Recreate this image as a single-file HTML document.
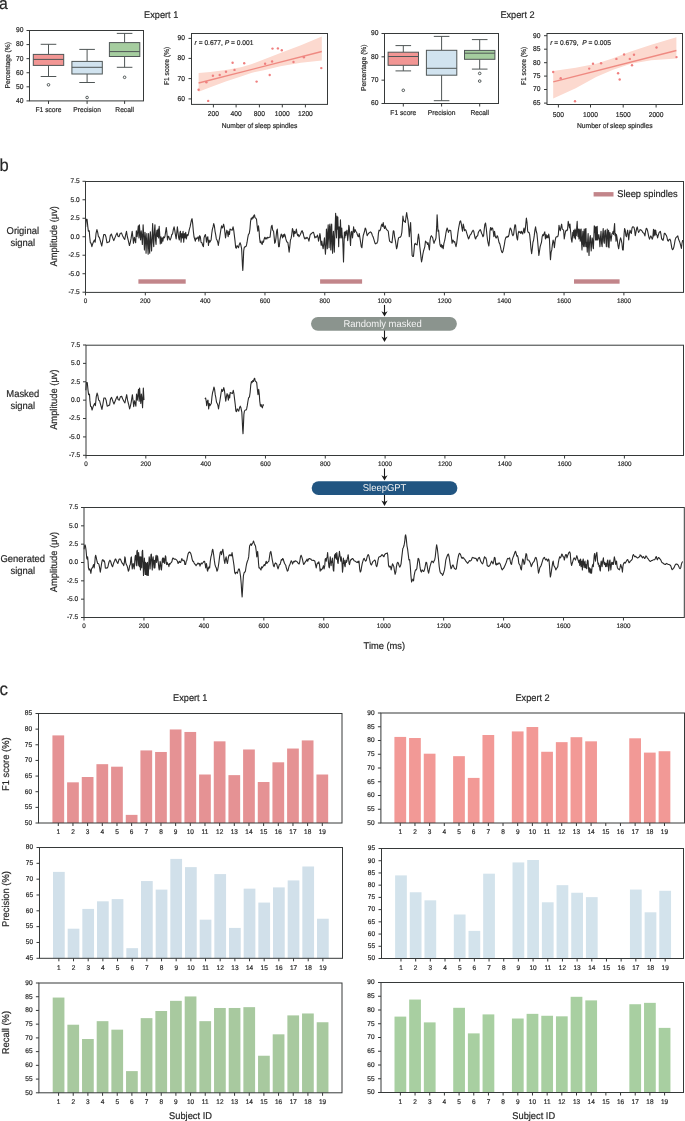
<!DOCTYPE html>
<html><head><meta charset="utf-8"><style>
html,body{margin:0;padding:0;background:#fff;}
body{width:685px;height:1121px;overflow:hidden;}
svg{display:block;font-family:"Liberation Sans", sans-serif;will-change:transform;text-rendering:geometricPrecision;}
text{stroke-width:0.18px;paint-order:stroke;}
</style></head><body>
<svg width="685" height="1121" viewBox="0 0 685 1121" shape-rendering="auto">
<rect x="0" y="0" width="685" height="1121" fill="#ffffff"/>
<path d="M85.64,226.90 L86.19,219.23 L87.07,219.23 L87.83,226.90 L88.38,231.28 L89.26,230.73 L89.69,236.75 L90.35,242.78 L91.12,243.32 L91.88,246.61 L92.54,244.42 L93.31,242.23 L94.40,240.04 L95.17,242.23 L96.04,233.47 L96.92,229.64 L97.69,232.37 L98.45,236.75 L99.33,237.30 L100.42,241.13 L101.74,246.06 L102.61,241.13 L103.71,234.56 L105.02,234.56 L105.90,236.75 L106.99,242.78 L108.09,242.23 L109.40,241.68 L110.28,235.66 L111.37,234.02 L112.69,237.85 L113.78,240.59 L114.88,237.85 L115.97,235.11 L117.07,232.92 L117.94,236.21 L119.04,236.75 L120.13,233.47 L121.45,232.92 L122.54,235.66 L123.64,237.85 L124.73,239.49 L125.61,235.11 L126.48,231.28 L127.36,236.75 L128.34,240.59 L129.44,245.51 L130.21,242.78 L131.08,238.40 L132.18,231.28 L132.94,237.85 L133.49,243.32 L134.37,237.30 L135.02,240.04 L135.68,242.78 L136.34,230.73 L137.10,236.75 L137.65,232.37 L138.31,225.80 L138.97,237.85 L139.40,224.71 L140.06,234.56 L140.61,240.04 L141.16,230.73 L141.81,235.66 L142.36,244.42 L143.13,224.71 L143.78,236.75 L144.44,249.89 L144.99,232.37 L145.54,237.85 L146.08,253.18 L146.85,233.47 L147.51,243.32 L148.16,254.27 L148.60,233.47 L149.26,246.61 L149.70,253.18 L150.35,231.83 L151.01,241.13 L151.56,250.99 L152.10,237.85 L152.65,223.61 L153.31,242.23 L153.75,246.61 L154.29,232.37 L154.95,224.71 L155.50,240.04 L156.05,244.42 L156.48,233.47 L157.00,230.18 L157.55,236.75 L158.09,229.09 L158.64,237.85 L159.19,226.35 L159.74,234.56 L160.28,243.87 L160.94,236.75 L161.60,243.32 L162.26,237.85 L162.91,241.13 L163.57,236.75 L164.23,237.85 L164.88,236.75 L165.54,232.37 L166.31,227.45 L166.85,232.37 L167.51,240.04 L168.17,236.21 L168.83,236.75 L169.48,238.94 L170.14,240.04 L171.02,237.85 L171.78,234.56 L172.55,234.02 L173.42,229.09 L174.08,226.90 L174.74,230.18 L175.39,234.56 L176.16,238.94 L176.71,233.47 L177.37,226.90 L178.02,232.37 L178.68,237.85 L179.34,240.04 L179.99,232.37 L180.43,231.28 L181.09,242.23 L181.75,233.47 L182.40,237.85 L183.06,231.28 L183.72,242.23 L184.37,233.47 L185.03,237.85 L185.69,232.37 L186.34,238.94 L187.11,234.56 L187.88,235.66 L188.53,233.47 L189.41,229.09 L190.07,226.90 L190.72,223.61 L191.38,220.33 L192.04,218.69 L192.69,223.61 L193.35,231.28 L194.01,236.75 L194.67,238.94 L195.32,241.13 L195.98,237.85 L196.64,238.94 L197.51,237.85 L198.17,236.75 L198.83,241.13 L199.70,235.66 L200.36,236.75 L201.02,242.23 L201.89,242.78 L202.77,245.51 L203.43,246.61 L204.08,237.85 L204.74,235.66 L205.40,234.56 L206.05,237.85 L206.49,242.23 L207.15,237.85 L207.80,236.75 L208.46,245.51 L209.12,240.04 L209.78,242.23 L210.43,241.13 L211.09,240.04 L211.75,233.47 L212.40,229.09 L213.06,226.90 L213.72,223.61 L214.37,225.80 L215.03,231.28 L215.69,234.56 L216.35,238.94 L217.00,240.04 L217.77,242.23 L218.32,245.51 L218.97,241.13 L219.63,237.85 L220.29,233.47 L220.94,229.09 L221.60,225.80 L222.26,227.99 L222.91,226.90 L223.57,224.16 L224.23,226.90 L224.89,232.37 L225.54,237.85 L226.20,233.47 L226.86,230.18 L227.51,232.37 L228.17,236.75 L228.83,231.28 L229.48,234.56 L230.00,229.09 L231.09,229.64 L232.19,230.18 L233.07,226.90 L233.72,230.18 L234.38,235.66 L235.04,241.13 L235.69,247.70 L236.35,248.25 L237.01,245.51 L237.88,246.61 L238.54,247.70 L239.31,244.42 L240.07,242.78 L240.73,244.42 L241.39,247.70 L241.61,248.80 L242.04,256.46 L242.48,266.32 L242.81,270.37 L243.25,261.94 L243.69,250.99 L244.23,247.70 L245.11,246.61 L245.88,246.61 L246.42,245.51 L247.08,242.23 L247.74,237.85 L248.39,234.56 L249.27,233.47 L249.93,229.09 L250.58,221.42 L251.24,218.14 L251.90,219.23 L252.56,217.04 L253.21,218.14 L253.87,215.40 L254.53,214.85 L254.96,217.59 L255.73,218.14 L256.50,219.23 L257.15,225.80 L257.81,231.28 L258.47,225.80 L259.13,231.28 L259.56,237.85 L260.22,242.78 L260.88,241.13 L261.53,243.32 L262.19,244.42 L262.85,241.13 L263.50,242.23 L264.16,238.94 L264.82,237.30 L265.48,238.94 L266.13,237.85 L266.79,238.94 L267.45,237.30 L268.32,237.85 L269.20,237.30 L270.07,237.30 L270.73,231.28 L271.39,226.35 L272.05,225.26 L272.70,230.18 L273.58,231.28 L274.24,237.85 L274.67,243.32 L275.33,242.23 L275.99,237.85 L276.64,231.28 L277.30,229.09 L277.96,237.85 L278.61,246.61 L279.27,246.61 L279.93,240.04 L280.59,236.75 L281.24,234.02 L281.90,235.66 L282.56,237.85 L283.21,234.56 L283.87,236.75 L284.53,234.02 L285.18,235.66 L285.84,238.94 L286.50,241.13 L287.16,242.23 L287.81,242.23 L288.47,246.61 L289.13,252.08 L289.78,246.61 L290.44,240.04 L291.10,238.40 L291.75,234.56 L292.41,228.54 L293.07,230.18 L293.72,236.75 L294.38,231.28 L295.04,233.47 L295.70,232.37 L296.35,229.09 L297.01,233.47 L297.67,235.66 L298.32,234.56 L298.98,236.75 L299.64,235.66 L300.29,234.56 L300.95,232.92 L301.61,231.28 L302.27,230.73 L302.92,233.47 L303.00,232.37 L303.66,235.66 L304.31,237.85 L304.97,238.94 L305.63,237.85 L306.28,238.40 L306.94,237.30 L307.60,237.85 L308.26,238.94 L308.91,241.13 L309.57,237.85 L310.23,234.56 L310.88,234.02 L311.54,233.47 L312.20,232.92 L312.85,232.37 L313.51,232.37 L314.17,234.56 L314.83,237.85 L315.48,236.75 L316.14,237.30 L316.80,236.75 L317.45,235.11 L318.11,237.85 L318.55,241.13 L319.20,237.85 L319.86,233.47 L320.30,235.66 L320.74,242.23 L321.18,245.51 L321.83,241.13 L322.49,245.51 L323.15,248.80 L323.80,243.32 L324.46,237.85 L324.90,246.61 L325.45,254.27 L325.99,244.42 L326.43,229.09 L326.87,237.85 L327.31,248.80 L327.75,232.37 L328.18,224.71 L328.62,237.85 L329.06,247.70 L329.50,226.90 L329.94,224.16 L330.37,237.85 L330.81,249.89 L331.25,226.90 L331.69,224.16 L332.13,243.32 L332.56,253.18 L333.00,237.85 L333.44,231.28 L333.88,243.32 L334.32,252.08 L334.75,237.85 L335.19,226.90 L335.63,213.21 L336.07,226.90 L336.50,237.85 L336.94,215.95 L337.38,229.09 L337.82,217.04 L338.26,232.37 L338.69,246.61 L339.13,226.90 L339.57,232.37 L340.01,237.85 L340.45,219.78 L340.88,231.28 L341.32,237.85 L341.76,227.99 L342.20,235.66 L342.64,237.85 L343.07,248.80 L343.51,261.94 L343.95,246.61 L344.39,232.37 L344.83,237.85 L345.26,231.28 L345.70,235.66 L346.36,232.37 L347.02,230.18 L347.67,240.59 L348.33,234.56 L348.77,225.26 L349.21,226.90 L349.86,235.66 L350.52,245.51 L351.18,232.37 L351.83,231.28 L352.49,237.85 L353.15,232.37 L353.59,226.90 L354.02,230.18 L354.46,232.37 L355.12,229.64 L355.78,231.28 L356.65,232.37 L357.31,234.56 L357.97,236.21 L358.62,236.75 L359.28,233.47 L359.94,237.85 L360.59,242.23 L361.25,246.61 L361.91,247.70 L362.56,241.13 L363.22,235.66 L363.88,233.47 L364.54,231.28 L365.19,227.99 L365.85,229.09 L366.51,232.37 L367.16,235.66 L367.82,234.56 L368.48,233.47 L369.13,232.92 L369.79,232.37 L370.45,231.83 L371.10,232.37 L371.76,233.47 L372.42,235.66 L373.08,236.75 L373.73,238.94 L374.39,241.13 L375.05,243.32 L375.70,243.87 L376.00,243.32 L376.88,243.32 L377.75,241.13 L378.41,233.47 L379.07,230.18 L379.94,230.73 L380.60,229.09 L381.26,225.80 L381.91,224.16 L382.57,226.35 L383.23,222.52 L383.88,226.90 L384.54,228.54 L385.20,225.80 L385.85,227.99 L386.51,229.64 L387.39,230.18 L388.26,231.28 L388.92,236.75 L389.58,241.13 L390.23,241.68 L391.11,242.23 L391.99,242.78 L392.64,236.75 L393.30,230.73 L393.96,231.28 L394.61,236.75 L395.27,240.04 L395.93,244.42 L396.58,248.80 L397.24,246.61 L397.90,241.13 L398.56,237.85 L399.43,237.30 L400.31,237.30 L401.18,235.66 L401.84,232.37 L402.50,223.61 L402.94,215.95 L403.37,219.23 L404.03,221.42 L404.69,221.42 L405.34,222.52 L406.00,217.04 L406.66,212.66 L407.32,217.04 L407.97,220.33 L408.63,226.90 L409.29,236.75 L409.94,229.09 L410.60,222.52 L411.04,232.37 L411.69,246.61 L412.13,255.37 L412.79,256.46 L413.45,256.46 L414.10,249.89 L414.54,244.42 L415.20,243.32 L415.86,244.42 L416.51,244.42 L417.17,244.96 L417.83,238.94 L418.48,234.02 L419.14,238.94 L419.80,246.61 L420.45,252.08 L421.11,258.65 L421.55,261.94 L422.21,258.65 L422.86,254.27 L423.52,250.99 L424.18,248.80 L424.83,246.61 L425.49,241.13 L426.15,242.23 L426.80,242.23 L427.46,244.42 L428.12,242.78 L428.78,246.61 L429.43,249.89 L430.09,240.04 L430.75,236.75 L431.40,235.66 L432.06,236.75 L432.72,237.85 L433.37,241.13 L434.03,243.32 L434.69,241.13 L435.35,240.04 L436.00,237.85 L436.66,226.90 L437.10,214.85 L437.54,221.42 L437.97,231.28 L438.63,230.18 L439.29,237.85 L439.94,244.42 L440.60,246.61 L441.26,244.42 L441.91,247.70 L442.57,245.51 L443.23,248.80 L443.89,243.32 L444.54,241.13 L445.20,237.85 L445.86,233.47 L446.51,230.18 L447.17,227.99 L447.83,230.18 L448.48,232.37 L449.00,230.73 L449.88,230.18 L450.75,230.73 L451.41,236.75 L452.07,243.32 L452.72,240.04 L453.38,240.59 L454.04,242.23 L454.69,241.68 L455.35,244.42 L456.01,246.61 L456.66,243.32 L457.32,237.85 L457.98,232.37 L458.64,227.99 L459.29,224.71 L459.95,221.42 L460.61,220.88 L461.26,223.61 L461.92,227.99 L462.58,231.28 L463.23,224.16 L463.89,226.90 L464.55,230.73 L465.20,229.64 L465.86,230.18 L466.52,232.37 L467.18,234.56 L467.83,236.75 L468.49,238.94 L469.15,237.85 L469.80,235.66 L470.46,234.56 L471.12,234.02 L471.77,232.37 L472.43,231.28 L473.09,230.18 L473.75,231.28 L474.40,234.56 L475.06,237.85 L475.72,238.94 L476.37,236.75 L477.03,236.21 L477.69,235.66 L478.34,232.37 L479.00,231.28 L479.66,230.18 L480.32,229.64 L480.97,231.28 L481.63,233.47 L482.29,234.56 L482.94,236.75 L483.60,235.66 L484.26,229.09 L484.91,224.16 L485.57,223.07 L486.23,227.99 L486.88,234.56 L487.54,240.04 L488.20,243.32 L488.86,246.06 L489.51,240.04 L489.95,231.28 L490.61,227.45 L491.26,230.18 L491.92,227.99 L492.58,227.99 L493.24,231.28 L493.89,236.75 L494.55,231.28 L495.21,235.66 L495.86,237.85 L496.52,237.85 L497.18,235.66 L497.83,236.75 L498.49,240.04 L499.15,242.78 L499.80,243.87 L500.46,246.61 L501.12,249.89 L501.78,252.08 L502.43,252.63 L503.09,250.99 L503.75,247.70 L504.40,244.42 L505.06,240.04 L505.72,237.85 L506.37,236.75 L507.03,237.30 L507.69,236.21 L508.35,236.75 L509.00,234.56 L509.66,230.18 L510.32,227.99 L510.97,229.09 L511.63,231.28 L512.29,234.56 L512.94,235.66 L513.60,234.56 L514.26,229.09 L514.91,224.71 L515.57,225.26 L516.23,232.37 L516.89,237.85 L517.54,240.04 L518.20,233.47 L518.86,231.28 L519.51,232.37 L520.17,231.83 L520.83,233.47 L521.48,231.28 L522.00,232.37 L522.66,234.02 L523.31,231.28 L523.97,227.99 L524.63,232.92 L525.28,229.09 L525.94,222.52 L526.38,218.14 L527.04,222.52 L527.69,231.28 L528.35,232.37 L529.01,232.37 L529.66,234.56 L530.32,241.13 L530.98,248.80 L531.64,253.72 L532.29,248.80 L532.95,242.23 L533.61,240.04 L534.26,235.66 L534.92,230.18 L535.58,226.90 L536.23,231.28 L536.89,233.47 L537.55,240.04 L538.20,247.70 L538.86,255.37 L539.52,250.99 L540.18,246.61 L540.83,244.42 L541.49,242.23 L542.15,236.75 L542.80,234.56 L543.46,235.66 L544.12,233.47 L544.77,231.83 L545.43,238.94 L546.09,234.56 L546.75,237.85 L547.40,235.66 L548.06,237.85 L548.72,234.02 L549.37,237.85 L550.03,252.08 L550.47,259.75 L551.13,252.08 L551.78,249.89 L552.44,244.42 L553.10,240.04 L553.75,242.23 L554.41,247.70 L555.07,241.13 L555.72,237.85 L556.38,236.75 L557.04,236.75 L557.69,236.75 L558.35,234.56 L559.01,225.26 L559.67,229.09 L560.32,230.73 L560.98,226.90 L561.64,224.16 L562.29,229.09 L562.95,229.64 L563.61,230.18 L564.26,238.94 L564.92,234.56 L565.58,231.28 L566.24,230.18 L566.89,230.73 L567.55,229.64 L568.21,221.42 L568.86,224.71 L569.52,227.99 L569.96,224.16 L570.40,229.64 L570.83,233.47 L571.27,238.94 L571.93,242.23 L572.37,237.85 L572.80,232.37 L573.24,235.66 L573.68,230.18 L574.12,237.85 L574.56,232.37 L574.99,229.09 L575.43,238.94 L575.87,230.18 L576.31,235.66 L576.75,226.90 L577.18,221.42 L577.62,232.37 L578.06,236.75 L578.50,229.09 L578.94,238.94 L579.37,233.47 L579.81,229.09 L580.25,241.13 L580.69,235.66 L581.13,229.09 L581.56,242.23 L582.00,249.89 L582.44,237.85 L582.88,231.28 L583.32,244.42 L583.75,246.61 L584.19,229.09 L584.63,237.85 L585.07,246.61 L585.51,229.09 L585.94,228.54 L586.38,246.61 L586.82,242.23 L587.26,252.08 L587.70,240.04 L588.13,233.47 L588.57,246.61 L589.01,255.37 L589.45,244.42 L589.89,237.85 L590.32,235.66 L590.76,244.42 L591.20,250.99 L591.64,243.32 L592.08,237.85 L592.51,238.94 L592.95,246.61 L593.39,248.80 L593.83,237.85 L594.27,225.80 L594.70,232.37 L595.00,226.90 L595.55,240.04 L596.09,226.90 L596.64,240.04 L597.19,226.35 L597.74,240.04 L598.28,237.85 L598.83,234.56 L599.38,238.94 L599.93,246.61 L600.47,237.85 L601.02,231.28 L601.57,243.32 L602.12,246.61 L602.66,234.56 L603.21,228.54 L603.76,241.13 L604.31,243.32 L604.85,231.28 L605.40,230.18 L605.95,241.13 L606.39,246.61 L606.83,234.56 L607.26,229.09 L607.70,236.75 L608.14,246.61 L608.58,230.18 L609.02,247.70 L609.45,237.85 L609.89,232.37 L610.33,235.66 L610.99,241.13 L611.42,237.85 L611.97,233.47 L612.52,233.47 L613.07,231.28 L613.61,234.56 L614.16,227.99 L614.60,223.61 L615.04,235.66 L615.58,233.47 L616.02,241.13 L616.46,234.56 L616.90,236.75 L617.45,241.13 L617.99,245.51 L618.65,248.80 L619.31,244.42 L619.96,240.04 L620.62,237.85 L621.28,240.04 L621.94,243.32 L622.59,249.89 L623.25,249.89 L623.69,241.13 L624.13,233.47 L624.56,228.54 L625.22,230.18 L625.88,235.66 L626.53,236.75 L627.19,232.37 L627.63,230.18 L628.07,233.47 L628.72,240.04 L629.38,233.47 L630.04,230.18 L630.69,232.37 L631.35,233.47 L632.01,227.99 L632.67,226.90 L633.32,226.90 L633.98,227.45 L634.64,230.18 L635.29,235.66 L635.95,232.37 L636.61,228.54 L637.26,226.90 L637.92,230.18 L638.58,232.37 L639.24,231.28 L639.89,230.18 L640.00,229.64 L640.99,229.97 L641.97,230.95 L642.96,232.60 L643.94,233.25 L644.93,235.88 L645.58,231.28 L646.24,228.32 L646.90,228.65 L647.56,230.62 L648.21,233.91 L648.87,237.19 L649.53,239.17 L650.18,237.19 L650.84,235.88 L651.50,237.19 L652.16,239.17 L652.81,237.85 L653.47,229.31 L653.93,235.88 L654.45,229.97 L655.11,235.22 L655.64,229.97 L656.29,233.91 L656.95,235.22 L657.61,237.85 L658.27,235.22 L659.05,232.60 L659.71,231.94 L660.37,231.28 L661.02,234.57 L661.68,239.17 L662.34,239.17 L663.00,240.48 L663.65,237.85 L664.31,233.25 L664.97,233.25 L665.62,234.57 L666.28,235.22 L666.94,237.19 L667.60,240.48 L668.25,241.14 L668.91,239.82 L669.89,239.17 L670.55,240.48 L671.21,244.42 L671.87,248.36 L672.52,249.68 L673.18,249.02 L673.84,247.05 L674.49,243.76 L675.15,239.82 L675.81,237.85 L676.47,237.19 L677.12,236.54 L677.78,235.88 L678.24,237.85 L678.76,239.82 L679.42,241.14 L680.08,243.11 L680.74,245.74 L681.39,248.36 L681.92,243.76 L682.58,240.48 L683.23,240.81" fill="none" stroke="#2a2a2a" stroke-width="1.1" stroke-linejoin="round"/>
<path d="M85.84,390.30 L86.39,382.63 L87.27,382.63 L88.03,390.30 L88.58,394.68 L89.46,394.13 L89.89,400.15 L90.55,406.18 L91.32,406.72 L92.08,410.01 L92.74,407.82 L93.51,405.63 L94.60,403.44 L95.37,405.63 L96.24,396.87 L97.12,393.04 L97.89,395.77 L98.65,400.15 L99.53,400.70 L100.62,404.53 L101.94,409.46 L102.81,404.53 L103.91,397.96 L105.22,397.96 L106.10,400.15 L107.19,406.18 L108.29,405.63 L109.60,405.08 L110.48,399.06 L111.57,397.42 L112.89,401.25 L113.98,403.99 L115.08,401.25 L116.17,398.51 L117.27,396.32 L118.14,399.61 L119.24,400.15 L120.33,396.87 L121.65,396.32 L122.74,399.06 L123.84,401.25 L124.93,402.89 L125.81,398.51 L126.68,394.68 L127.56,400.15 L128.54,403.99 L129.64,408.91 L130.41,406.18 L131.28,401.80 L132.38,394.68 L133.14,401.25 L133.69,406.72 L134.57,400.70 L135.22,403.44 L135.88,406.18 L136.54,394.13 L137.30,400.15 L137.85,395.77 L138.51,389.20 L139.17,401.25 L139.60,388.11 L140.26,397.96 L140.81,403.44 L141.36,394.13 L142.01,399.06 L142.56,407.82 L143.33,388.11 L143.98,400.15" fill="none" stroke="#2a2a2a" stroke-width="1.1" stroke-linejoin="round"/>
<path d="M204.94,399.06 L205.60,397.96 L206.25,401.25 L206.69,405.63 L207.35,401.25 L208.00,400.15 L208.66,408.91 L209.32,403.44 L209.98,405.63 L210.63,404.53 L211.29,403.44 L211.95,396.87 L212.60,392.49 L213.26,390.30 L213.92,387.01 L214.57,389.20 L215.23,394.68 L215.89,397.96 L216.55,402.34 L217.20,403.44 L217.97,405.63 L218.52,408.91 L219.17,404.53 L219.83,401.25 L220.49,396.87 L221.14,392.49 L221.80,389.20 L222.46,391.39 L223.11,390.30 L223.77,387.56 L224.43,390.30 L225.09,395.77 L225.74,401.25 L226.40,396.87 L227.06,393.58 L227.71,395.77 L228.37,400.15 L229.03,394.68 L229.68,397.96 L230.20,392.49 L231.29,393.04 L232.39,393.58 L233.27,390.30 L233.92,393.58 L234.58,399.06 L235.24,404.53 L235.89,411.10 L236.55,411.65 L237.21,408.91 L238.08,410.01 L238.74,411.10 L239.51,407.82 L240.27,406.18 L240.93,407.82 L241.59,411.10 L241.81,412.20 L242.24,419.86 L242.68,429.72 L243.01,433.77 L243.45,425.34 L243.89,414.39 L244.43,411.10 L245.31,410.01 L246.08,410.01 L246.62,408.91 L247.28,405.63 L247.94,401.25 L248.59,397.96 L249.47,396.87 L250.13,392.49 L250.78,384.82 L251.44,381.54 L252.10,382.63 L252.76,380.44 L253.41,381.54 L254.07,378.80 L254.73,378.25 L255.16,380.99 L255.93,381.54 L256.70,382.63 L257.35,389.20 L258.01,394.68 L258.67,389.20 L259.33,394.68 L259.76,401.25 L260.42,406.18 L261.08,404.53 L261.73,406.72 L262.39,407.82 L263.05,404.53 L263.70,405.63" fill="none" stroke="#2a2a2a" stroke-width="1.1" stroke-linejoin="round"/>
<path d="M84.09,549.23 L84.53,545.95 L84.97,544.85 L85.41,545.95 L86.07,550.33 L86.72,557.99 L87.16,559.09 L87.60,556.90 L88.04,561.28 L88.47,567.85 L89.13,570.04 L89.79,568.94 L90.45,571.13 L90.88,573.32 L91.54,568.94 L92.20,567.85 L92.85,566.75 L93.51,564.56 L94.17,567.85 L94.83,562.37 L95.26,556.90 L95.70,555.26 L96.36,557.99 L97.02,561.28 L97.67,563.47 L98.33,563.47 L98.99,564.56 L99.64,567.85 L100.30,572.23 L100.96,567.85 L101.61,563.47 L102.27,560.18 L102.93,559.64 L103.58,561.28 L104.24,560.73 L104.90,563.47 L105.34,567.85 L105.99,568.40 L106.65,567.85 L107.31,567.85 L107.96,566.75 L108.62,563.47 L109.28,561.28 L109.94,560.18 L110.59,561.28 L111.25,563.47 L111.91,565.66 L112.56,566.75 L113.22,564.56 L113.88,562.37 L114.53,561.28 L115.19,559.09 L115.85,559.09 L116.50,561.28 L117.16,562.37 L117.82,563.47 L118.48,561.28 L119.13,559.09 L119.79,559.09 L120.45,559.09 L121.10,560.73 L121.76,562.37 L122.42,563.47 L123.07,564.02 L123.73,565.66 L124.39,562.37 L124.83,556.90 L125.26,557.99 L125.70,562.37 L126.36,564.56 L127.02,565.66 L127.67,567.85 L128.33,571.13 L128.99,570.04 L129.64,565.66 L130.30,564.56 L130.96,557.99 L131.40,556.90 L131.83,564.56 L132.27,568.94 L132.71,565.66 L133.15,563.47 L133.59,565.66 L134.24,568.94 L134.68,562.37 L135.12,556.90 L135.56,555.26 L135.99,559.09 L136.43,565.66 L136.87,551.42 L137.31,550.33 L137.75,560.18 L138.18,565.66 L138.62,552.52 L139.06,559.09 L139.50,566.75 L139.94,556.90 L140.00,557.99 L140.44,570.04 L140.88,556.90 L141.31,563.47 L141.75,567.85 L142.19,551.42 L142.63,550.33 L143.07,562.37 L143.50,575.51 L143.94,567.85 L144.38,557.99 L144.82,565.66 L145.26,574.42 L145.69,562.37 L146.13,574.42 L146.57,563.47 L147.01,575.51 L147.45,562.37 L147.88,574.42 L148.32,575.51 L148.76,563.47 L149.20,556.90 L149.64,560.18 L150.07,568.94 L150.51,562.37 L150.95,554.71 L151.39,554.16 L151.83,562.37 L152.26,570.04 L152.70,560.18 L153.14,556.90 L153.58,563.47 L154.02,567.85 L154.45,560.18 L154.89,567.85 L155.33,562.37 L155.77,556.90 L156.20,555.26 L156.64,562.37 L157.08,559.09 L157.52,555.80 L157.96,559.09 L158.39,563.47 L158.83,567.85 L159.27,570.04 L159.71,565.66 L160.15,561.28 L160.58,563.47 L161.02,568.94 L161.46,570.04 L161.90,564.56 L162.34,559.09 L162.77,557.99 L163.21,562.37 L163.65,557.99 L164.09,559.09 L164.53,563.47 L164.96,560.18 L165.40,555.80 L165.84,556.90 L166.28,563.47 L166.72,564.56 L167.15,562.37 L167.59,563.47 L168.03,564.56 L168.47,564.56 L168.91,566.75 L169.34,563.47 L169.78,564.56 L170.22,563.47 L170.88,562.92 L171.53,562.37 L171.97,561.28 L172.41,559.09 L172.85,557.99 L173.50,558.54 L174.16,559.09 L174.82,559.09 L175.48,559.09 L176.13,559.64 L176.79,560.18 L177.45,561.28 L178.10,563.47 L178.76,562.37 L179.42,561.28 L180.07,562.37 L180.73,562.37 L181.39,560.18 L181.83,558.54 L182.48,560.18 L183.14,560.73 L183.80,560.18 L184.45,561.28 L184.89,564.56 L185.55,564.56 L186.21,561.28 L186.86,560.18 L187.52,556.35 L188.18,553.61 L188.83,552.52 L189.49,551.97 L190.15,552.52 L190.80,553.61 L191.46,555.80 L192.12,559.09 L192.78,561.28 L193.43,561.28 L194.09,562.92 L194.75,564.02 L195.40,564.56 L196.06,565.66 L196.72,564.56 L197.37,564.02 L198.03,562.92 L198.69,564.02 L199.35,563.47 L200.00,566.21 L200.66,564.02 L201.32,562.92 L201.97,564.02 L202.63,562.92 L203.29,562.37 L203.94,561.28 L204.60,561.28 L205.26,564.56 L205.70,567.85 L206.35,563.47 L206.79,565.66 L207.23,570.04 L207.67,571.13 L208.10,567.85 L208.54,568.94 L208.98,566.75 L209.64,567.85 L210.29,561.28 L210.95,556.90 L211.61,554.71 L212.27,550.33 L212.70,549.23 L213.00,550.33 L213.66,554.71 L214.31,560.18 L214.97,564.56 L215.63,566.75 L216.28,567.85 L216.94,571.13 L217.60,570.04 L218.26,566.75 L218.91,562.37 L219.57,556.90 L220.23,552.52 L220.88,551.42 L221.54,554.71 L222.20,551.42 L222.85,549.23 L223.51,553.61 L224.17,560.18 L224.83,563.47 L225.48,559.09 L226.14,556.90 L226.80,561.28 L227.45,563.47 L228.11,559.09 L228.77,555.80 L229.42,554.71 L230.08,555.80 L230.74,554.71 L231.39,555.80 L232.05,552.52 L232.71,556.90 L233.37,561.28 L234.02,565.66 L234.68,572.23 L235.34,573.87 L235.99,572.23 L236.65,572.23 L237.31,573.32 L237.96,571.13 L238.62,568.94 L239.28,568.94 L239.94,572.23 L240.59,576.61 L241.25,584.27 L241.69,591.94 L242.13,596.86 L242.56,589.75 L243.00,582.08 L243.44,575.51 L244.10,572.78 L244.75,572.23 L245.41,571.13 L246.07,566.75 L246.72,563.47 L247.38,561.28 L248.04,559.64 L248.69,556.90 L249.13,551.42 L249.57,545.95 L250.23,544.85 L250.88,543.76 L251.54,545.40 L252.20,543.76 L252.86,542.66 L253.51,541.02 L254.17,543.21 L254.83,544.85 L255.48,545.95 L256.14,550.33 L256.80,556.90 L257.24,553.61 L257.67,551.42 L258.11,556.90 L258.55,563.47 L258.99,567.85 L259.64,567.85 L260.30,568.94 L260.96,570.04 L261.61,566.75 L262.27,567.85 L262.93,566.75 L263.59,565.66 L264.24,564.56 L264.90,565.66 L265.56,563.47 L266.21,561.28 L266.87,563.47 L267.53,562.37 L268.18,561.83 L268.84,561.28 L269.50,556.90 L270.16,552.52 L270.81,551.42 L271.47,554.71 L272.13,559.09 L272.78,562.37 L273.44,565.66 L274.10,566.75 L274.75,564.02 L275.41,562.92 L276.07,563.47 L276.72,564.02 L277.38,566.75 L278.04,568.94 L278.70,566.75 L279.35,564.56 L280.01,564.56 L280.67,562.37 L281.32,559.64 L281.98,560.18 L282.64,558.54 L283.29,559.09 L283.95,561.83 L284.61,563.47 L285.27,564.56 L285.92,565.66 L286.00,566.75 L286.66,568.94 L287.31,571.13 L287.97,570.59 L288.63,567.85 L289.28,565.66 L289.94,564.56 L290.60,562.37 L291.26,560.73 L291.91,561.83 L292.57,564.02 L293.23,562.37 L293.88,561.28 L294.54,561.83 L295.20,560.73 L295.85,561.28 L296.51,561.28 L297.17,561.83 L297.83,562.92 L298.48,563.47 L299.14,564.02 L299.80,561.28 L300.45,556.90 L301.11,555.26 L301.77,556.90 L302.42,559.09 L303.08,562.37 L303.74,564.56 L304.39,563.47 L305.05,562.37 L305.71,561.28 L306.37,560.73 L307.02,559.09 L307.68,561.28 L308.34,559.64 L308.99,558.54 L309.65,558.54 L310.31,559.09 L310.96,559.09 L311.62,560.18 L312.28,560.18 L312.94,560.40 L313.59,560.18 L314.25,560.73 L314.91,561.28 L315.56,564.56 L316.22,567.85 L316.88,564.56 L317.53,562.92 L318.19,563.47 L318.85,561.83 L319.50,564.56 L320.16,571.13 L320.82,568.94 L321.48,570.04 L322.13,568.94 L322.79,567.85 L323.45,565.66 L324.10,568.94 L324.76,565.66 L325.20,559.09 L325.64,558.54 L326.29,561.28 L326.73,557.99 L327.17,556.90 L327.61,552.52 L328.05,557.99 L328.48,562.37 L328.92,566.75 L329.36,567.85 L329.80,562.37 L330.24,556.90 L330.67,560.18 L331.11,565.66 L331.55,561.28 L331.99,562.37 L332.43,557.99 L332.86,563.47 L333.30,570.04 L333.74,571.13 L334.18,562.37 L334.61,554.71 L335.05,557.99 L335.49,553.61 L335.93,556.90 L336.37,559.09 L336.80,552.52 L337.24,556.90 L337.68,562.37 L338.12,563.47 L338.56,557.99 L338.99,555.80 L339.43,551.42 L339.87,554.71 L340.31,557.99 L340.75,561.28 L341.18,556.90 L341.62,560.18 L342.06,563.47 L342.50,572.23 L342.94,567.85 L343.37,557.99 L343.81,563.47 L344.25,560.18 L344.69,565.66 L345.13,566.75 L345.56,562.37 L346.00,560.18 L346.44,562.37 L346.88,561.28 L347.32,558.54 L347.75,556.90 L348.19,554.71 L348.63,559.09 L349.07,563.47 L349.51,564.56 L350.16,561.28 L350.82,559.64 L351.48,559.64 L352.13,558.54 L352.79,558.54 L353.45,559.64 L354.10,560.73 L354.76,561.06 L355.42,561.28 L356.08,561.83 L356.73,562.37 L357.39,562.37 L358.05,561.28 L358.70,562.92 L359.00,561.13 L359.66,568.80 L360.31,572.08 L360.97,570.99 L361.63,566.61 L362.28,563.32 L362.94,561.13 L363.60,558.94 L364.26,558.40 L364.91,560.04 L365.57,561.13 L366.23,560.59 L366.88,557.85 L367.54,555.66 L368.20,554.56 L368.85,555.66 L369.51,558.94 L370.17,562.23 L370.83,564.42 L371.48,564.96 L372.14,563.32 L372.80,561.68 L373.45,561.13 L374.11,560.59 L374.77,560.04 L375.42,561.13 L376.08,565.51 L376.74,566.61 L377.39,564.42 L378.05,560.04 L378.71,557.30 L379.37,556.75 L380.02,556.75 L380.68,556.21 L381.34,555.66 L381.99,554.56 L382.65,555.11 L383.31,556.21 L383.96,556.75 L384.62,554.56 L385.28,554.02 L385.94,553.47 L386.59,553.47 L387.25,552.92 L387.69,554.56 L388.13,560.04 L388.56,565.51 L389.22,567.15 L389.88,566.06 L390.53,566.61 L391.19,569.89 L391.85,566.61 L392.50,563.87 L393.16,564.96 L393.82,566.61 L394.48,570.99 L395.13,574.27 L395.79,572.08 L396.45,566.61 L397.10,563.32 L397.76,562.23 L398.42,563.32 L399.07,565.51 L399.73,567.15 L400.39,566.06 L401.05,563.87 L401.70,557.85 L402.36,552.37 L402.80,548.54 L403.45,547.45 L404.11,545.26 L404.77,541.42 L405.21,535.95 L405.64,534.85 L406.08,537.04 L406.52,541.42 L406.96,545.80 L407.61,549.09 L408.27,554.56 L408.93,560.04 L409.59,559.49 L410.24,565.51 L410.90,575.37 L411.56,581.94 L412.21,580.29 L412.87,579.20 L413.53,580.84 L414.18,575.37 L414.84,572.08 L415.50,569.89 L416.16,569.89 L416.81,568.80 L417.47,563.32 L418.13,558.40 L418.78,558.94 L419.44,562.23 L420.10,567.70 L420.75,570.99 L421.41,572.08 L422.07,569.89 L422.72,570.44 L423.38,571.53 L424.04,570.99 L424.70,568.80 L425.35,565.51 L426.01,562.23 L426.67,562.78 L427.32,566.61 L427.98,570.99 L428.64,573.18 L429.29,569.89 L429.95,566.61 L430.61,564.42 L431.27,562.23 L431.92,561.13 L432.00,561.13 L432.66,561.68 L433.31,562.78 L433.97,561.13 L434.63,560.04 L435.28,556.75 L435.94,550.18 L436.60,544.71 L437.26,547.99 L437.91,553.47 L438.57,560.04 L439.23,566.61 L439.88,570.99 L440.54,573.18 L441.20,573.18 L441.85,573.72 L442.51,575.37 L443.17,574.27 L443.83,572.08 L444.48,569.89 L445.14,565.51 L445.80,560.04 L446.45,557.85 L447.11,556.21 L447.77,554.56 L448.42,554.02 L449.08,556.75 L449.74,561.13 L450.39,565.51 L451.05,568.80 L451.71,567.70 L452.37,565.51 L453.02,564.96 L453.68,566.61 L454.34,568.25 L454.99,568.80 L455.65,569.34 L456.31,568.80 L456.96,564.42 L457.62,560.04 L458.28,556.75 L458.94,554.02 L459.59,553.25 L460.25,554.02 L460.91,555.66 L461.56,557.85 L462.22,558.40 L462.88,557.30 L463.53,557.85 L464.19,558.94 L464.85,559.49 L465.50,560.59 L466.16,561.68 L466.82,562.23 L467.48,563.32 L468.13,562.78 L468.79,561.68 L469.45,560.59 L470.10,561.13 L470.76,560.59 L471.42,560.04 L472.07,557.85 L472.73,557.30 L473.39,557.85 L474.05,557.85 L474.70,558.40 L475.36,558.40 L476.02,558.40 L476.67,560.04 L477.33,561.13 L477.99,558.94 L478.64,557.85 L479.30,557.30 L479.96,558.94 L480.61,561.13 L481.27,562.23 L481.93,563.32 L482.59,563.87 L483.24,562.23 L483.90,558.94 L484.56,556.75 L485.21,557.85 L485.87,557.85 L486.53,560.04 L487.18,565.51 L487.84,566.06 L488.50,566.39 L489.16,566.06 L489.81,565.51 L490.47,563.87 L491.13,562.23 L491.78,561.13 L492.44,562.78 L493.10,563.87 L493.75,561.13 L494.41,557.30 L495.07,557.85 L495.72,564.42 L496.38,564.96 L497.04,563.32 L497.70,564.42 L498.35,563.87 L499.01,562.78 L499.67,563.32 L500.32,564.42 L500.98,566.61 L501.64,568.80 L502.29,569.89 L502.95,568.80 L503.61,568.25 L504.27,567.15 L504.92,565.51 L505.00,565.51 L505.66,563.87 L506.31,562.23 L506.97,560.04 L507.63,558.40 L508.28,558.94 L508.94,558.40 L509.60,557.85 L510.26,561.13 L510.91,563.87 L511.57,564.42 L512.23,560.04 L512.88,557.85 L513.54,556.21 L514.20,554.56 L514.85,552.37 L515.51,551.28 L516.17,553.47 L516.83,556.21 L517.48,555.66 L518.14,557.85 L518.80,563.32 L519.45,564.42 L520.11,565.51 L520.77,568.80 L521.42,569.89 L522.08,563.32 L522.74,558.94 L523.39,560.04 L524.05,564.42 L524.71,563.32 L525.37,557.85 L526.02,553.47 L526.68,554.56 L527.34,560.04 L527.99,560.04 L528.65,560.04 L529.31,561.13 L529.96,562.23 L530.62,563.87 L531.28,566.61 L531.94,564.96 L532.59,563.32 L533.25,562.23 L533.91,561.68 L534.56,560.04 L535.22,557.85 L535.88,557.30 L536.53,558.94 L537.19,562.23 L537.85,567.70 L538.50,573.18 L539.16,570.99 L539.82,567.70 L540.48,566.61 L541.13,565.51 L541.79,563.32 L542.45,561.13 L543.10,558.94 L543.76,557.85 L544.42,557.30 L545.07,558.94 L545.73,560.04 L546.39,558.94 L547.05,560.04 L547.70,561.13 L548.36,558.94 L549.02,560.04 L549.45,565.51 L549.89,572.08 L550.33,577.01 L550.77,575.37 L551.43,570.99 L552.08,566.61 L552.74,562.23 L553.18,561.13 L553.83,565.51 L554.49,566.61 L555.15,567.70 L555.80,569.89 L556.46,568.80 L557.12,567.70 L557.78,566.61 L558.43,562.23 L559.09,558.94 L559.75,556.75 L560.40,557.85 L561.06,556.75 L561.72,554.02 L562.37,554.56 L563.03,556.75 L563.69,556.75 L564.35,560.04 L565.00,556.75 L565.66,554.56 L566.32,554.56 L566.97,557.85 L567.63,555.66 L568.29,554.02 L568.94,552.37 L569.60,551.83 L570.26,553.47 L570.91,562.23 L571.57,565.51 L572.23,563.32 L572.89,561.13 L573.54,558.94 L574.20,557.85 L574.86,558.94 L575.51,560.04 L576.17,557.85 L576.83,555.66 L577.48,557.85 L578.00,560.04 L578.44,561.13 L578.88,562.78 L579.31,560.04 L579.75,565.51 L580.19,561.13 L580.63,558.94 L581.07,566.61 L581.50,563.32 L581.94,561.13 L582.38,569.89 L582.82,561.13 L583.26,558.94 L583.69,564.42 L584.13,567.70 L584.57,562.23 L585.01,561.13 L585.45,567.70 L585.88,564.42 L586.32,567.70 L586.76,568.80 L587.20,562.23 L587.64,560.04 L588.07,561.13 L588.51,568.80 L588.95,572.08 L589.39,567.70 L589.83,569.89 L590.26,573.18 L590.70,568.80 L591.14,572.08 L591.58,573.18 L592.02,567.70 L592.45,565.51 L592.89,564.42 L593.33,566.61 L593.77,561.13 L594.20,555.66 L594.64,553.47 L595.08,557.85 L595.52,561.13 L595.96,556.75 L596.39,553.47 L596.83,552.37 L597.27,556.75 L597.71,562.23 L598.15,564.42 L598.58,563.32 L599.02,566.61 L599.46,565.51 L599.90,569.89 L600.34,570.99 L600.77,564.42 L601.21,561.13 L601.65,563.32 L602.09,566.61 L602.53,562.23 L602.96,560.04 L603.40,557.85 L603.84,563.32 L604.28,564.42 L604.72,562.23 L605.15,564.42 L605.59,566.61 L606.03,563.32 L606.47,564.42 L606.91,566.61 L607.34,561.13 L607.78,560.04 L608.22,564.42 L608.66,570.99 L609.10,567.70 L609.53,561.13 L609.97,560.04 L610.41,565.51 L610.85,569.89 L611.29,565.51 L611.72,562.23 L612.16,563.32 L612.60,564.42 L613.04,562.23 L613.48,564.42 L613.91,560.04 L614.35,556.75 L614.79,558.94 L615.23,561.13 L615.67,564.42 L616.10,562.23 L616.54,561.13 L616.98,565.51 L617.42,567.70 L618.07,568.80 L618.73,569.34 L619.39,569.89 L620.05,567.70 L620.70,564.42 L621.36,566.61 L622.02,568.80 L622.45,572.08 L622.89,566.61 L623.33,564.42 L623.77,563.32 L624.43,562.23 L625.08,563.32 L625.74,562.23 L626.40,561.13 L627.05,560.04 L627.71,559.49 L628.37,561.13 L629.02,562.78 L629.68,562.23 L630.34,561.13 L630.99,560.59 L631.65,560.04 L632.31,558.94 L632.75,555.66 L633.40,554.56 L634.06,555.66 L634.72,556.75 L635.37,556.21 L636.03,556.75 L636.69,557.30 L637.35,557.85 L638.00,557.85 L638.66,557.30 L639.32,556.75 L639.97,556.21 L640.00,554.89 L640.66,555.22 L641.31,555.88 L641.97,557.19 L642.63,557.85 L643.29,556.54 L643.94,557.19 L644.60,558.51 L645.26,557.85 L645.91,555.88 L646.57,556.54 L647.23,557.85 L647.88,558.51 L648.54,559.49 L649.20,560.48 L649.86,561.14 L650.51,561.47 L651.17,560.81 L651.83,560.48 L652.48,560.48 L653.14,559.82 L653.80,559.82 L654.45,559.82 L655.11,559.17 L655.77,557.19 L656.29,556.54 L656.82,558.51 L657.35,559.82 L657.87,558.51 L658.40,557.52 L659.05,557.85 L659.71,558.84 L660.37,559.17 L661.02,560.48 L661.68,562.12 L662.34,562.78 L663.00,563.11 L663.65,563.76 L664.31,564.09 L664.97,564.42 L665.62,564.42 L666.28,563.44 L666.94,563.76 L667.60,564.09 L668.25,564.42 L668.91,564.55 L669.57,564.75 L670.22,565.21 L670.88,566.06 L671.54,568.36 L672.19,569.68 L672.85,569.02 L673.51,568.36 L674.17,567.38 L674.82,565.74 L675.48,564.42 L676.14,564.09 L676.79,564.09 L677.45,564.42 L678.11,565.08 L678.76,566.39 L679.42,568.04 L680.08,568.69 L680.74,567.71 L681.39,564.42 L682.05,562.45 L682.71,561.47" fill="none" stroke="#2a2a2a" stroke-width="1.1" stroke-linejoin="round"/>
<text transform="translate(-0.90,8.70) scale(1,1.05)" font-size="15.8" text-anchor="start" fill="#262626" stroke="#262626">a</text>
<text transform="translate(-0.50,170.90) scale(1,1.05)" font-size="16.5" text-anchor="start" fill="#262626" stroke="#262626">b</text>
<text transform="translate(-0.40,694.60) scale(1,1.05)" font-size="17.0" text-anchor="start" fill="#262626" stroke="#262626">c</text>
<text transform="translate(161.20,17.60) scale(1,1.05)" font-size="9.2" text-anchor="middle" fill="#262626" stroke="#262626">Expert 1</text>
<text transform="translate(517.50,17.60) scale(1,1.05)" font-size="9.2" text-anchor="middle" fill="#262626" stroke="#262626">Expert 2</text>
<line x1="48.50" y1="44.30" x2="48.50" y2="54.40" stroke="#4f5656" stroke-width="1.0"/>
<line x1="48.50" y1="65.40" x2="48.50" y2="76.50" stroke="#4f5656" stroke-width="1.0"/>
<line x1="40.70" y1="44.30" x2="56.30" y2="44.30" stroke="#4f5656" stroke-width="1.0"/>
<line x1="40.70" y1="76.50" x2="56.30" y2="76.50" stroke="#4f5656" stroke-width="1.0"/>
<rect x="33.30" y="54.40" width="30.40" height="11.00" fill="#f29694" stroke="#4f5656" stroke-width="1.0"/>
<line x1="33.30" y1="59.40" x2="63.70" y2="59.40" stroke="#4f5656" stroke-width="1.0"/>
<circle cx="48.50" cy="84.80" r="1.3" fill="none" stroke="#4f5656" stroke-width="1.0"/>
<line x1="87.10" y1="49.40" x2="87.10" y2="61.40" stroke="#4f5656" stroke-width="1.0"/>
<line x1="87.10" y1="74.00" x2="87.10" y2="82.50" stroke="#4f5656" stroke-width="1.0"/>
<line x1="79.30" y1="49.40" x2="94.90" y2="49.40" stroke="#4f5656" stroke-width="1.0"/>
<line x1="79.30" y1="82.50" x2="94.90" y2="82.50" stroke="#4f5656" stroke-width="1.0"/>
<rect x="71.90" y="61.40" width="30.40" height="12.60" fill="#d1e3ef" stroke="#4f5656" stroke-width="1.0"/>
<line x1="71.90" y1="67.30" x2="102.30" y2="67.30" stroke="#4f5656" stroke-width="1.0"/>
<circle cx="87.10" cy="97.50" r="1.3" fill="none" stroke="#4f5656" stroke-width="1.0"/>
<line x1="124.60" y1="33.40" x2="124.60" y2="42.60" stroke="#4f5656" stroke-width="1.0"/>
<line x1="124.60" y1="56.50" x2="124.60" y2="67.30" stroke="#4f5656" stroke-width="1.0"/>
<line x1="116.80" y1="33.40" x2="132.40" y2="33.40" stroke="#4f5656" stroke-width="1.0"/>
<line x1="116.80" y1="67.30" x2="132.40" y2="67.30" stroke="#4f5656" stroke-width="1.0"/>
<rect x="109.40" y="42.60" width="30.40" height="13.90" fill="#a5cd9f" stroke="#4f5656" stroke-width="1.0"/>
<line x1="109.40" y1="51.60" x2="139.80" y2="51.60" stroke="#4f5656" stroke-width="1.0"/>
<circle cx="124.60" cy="77.30" r="1.3" fill="none" stroke="#4f5656" stroke-width="1.0"/>
<rect x="29.50" y="30.50" width="114.00" height="70.40" fill="none" stroke="#363939" stroke-width="1.0"/>
<line x1="26.50" y1="100.90" x2="29.50" y2="100.90" stroke="#363939" stroke-width="1.0"/>
<text transform="translate(23.50,102.81) scale(1,1.05)" font-size="6.7" text-anchor="end" fill="#262626" stroke="#262626">40</text>
<line x1="26.50" y1="86.82" x2="29.50" y2="86.82" stroke="#363939" stroke-width="1.0"/>
<text transform="translate(23.50,88.73) scale(1,1.05)" font-size="6.7" text-anchor="end" fill="#262626" stroke="#262626">50</text>
<line x1="26.50" y1="72.74" x2="29.50" y2="72.74" stroke="#363939" stroke-width="1.0"/>
<text transform="translate(23.50,74.65) scale(1,1.05)" font-size="6.7" text-anchor="end" fill="#262626" stroke="#262626">60</text>
<line x1="26.50" y1="58.66" x2="29.50" y2="58.66" stroke="#363939" stroke-width="1.0"/>
<text transform="translate(23.50,60.57) scale(1,1.05)" font-size="6.7" text-anchor="end" fill="#262626" stroke="#262626">70</text>
<line x1="26.50" y1="44.58" x2="29.50" y2="44.58" stroke="#363939" stroke-width="1.0"/>
<text transform="translate(23.50,46.49) scale(1,1.05)" font-size="6.7" text-anchor="end" fill="#262626" stroke="#262626">80</text>
<line x1="26.50" y1="30.50" x2="29.50" y2="30.50" stroke="#363939" stroke-width="1.0"/>
<text transform="translate(23.50,32.41) scale(1,1.05)" font-size="6.7" text-anchor="end" fill="#262626" stroke="#262626">90</text>
<line x1="48.50" y1="100.90" x2="48.50" y2="103.90" stroke="#363939" stroke-width="1.0"/>
<text transform="translate(48.50,112.42) scale(1,1.05)" font-size="6.7" text-anchor="middle" fill="#262626" stroke="#262626">F1 score</text>
<line x1="87.10" y1="100.90" x2="87.10" y2="103.90" stroke="#363939" stroke-width="1.0"/>
<text transform="translate(87.10,112.42) scale(1,1.05)" font-size="6.7" text-anchor="middle" fill="#262626" stroke="#262626">Precision</text>
<line x1="124.60" y1="100.90" x2="124.60" y2="103.90" stroke="#363939" stroke-width="1.0"/>
<text transform="translate(124.60,112.42) scale(1,1.05)" font-size="6.7" text-anchor="middle" fill="#262626" stroke="#262626">Recall</text>
<text transform="translate(9.71,65.30) rotate(-90) scale(1,1.05)" font-size="6.7" text-anchor="middle" fill="#262626" stroke="#262626">Percentage (%)</text>
<line x1="403.30" y1="45.60" x2="403.30" y2="52.20" stroke="#4f5656" stroke-width="1.0"/>
<line x1="403.30" y1="65.30" x2="403.30" y2="70.90" stroke="#4f5656" stroke-width="1.0"/>
<line x1="395.50" y1="45.60" x2="411.10" y2="45.60" stroke="#4f5656" stroke-width="1.0"/>
<line x1="395.50" y1="70.90" x2="411.10" y2="70.90" stroke="#4f5656" stroke-width="1.0"/>
<rect x="388.10" y="52.20" width="30.40" height="13.10" fill="#f29694" stroke="#4f5656" stroke-width="1.0"/>
<line x1="388.10" y1="56.50" x2="418.50" y2="56.50" stroke="#4f5656" stroke-width="1.0"/>
<circle cx="403.30" cy="90.30" r="1.3" fill="none" stroke="#4f5656" stroke-width="1.0"/>
<line x1="441.60" y1="36.40" x2="441.60" y2="50.30" stroke="#4f5656" stroke-width="1.0"/>
<line x1="441.60" y1="75.20" x2="441.60" y2="100.70" stroke="#4f5656" stroke-width="1.0"/>
<line x1="433.80" y1="36.40" x2="449.40" y2="36.40" stroke="#4f5656" stroke-width="1.0"/>
<line x1="433.80" y1="100.70" x2="449.40" y2="100.70" stroke="#4f5656" stroke-width="1.0"/>
<rect x="426.40" y="50.30" width="30.40" height="24.90" fill="#d1e3ef" stroke="#4f5656" stroke-width="1.0"/>
<line x1="426.40" y1="68.30" x2="456.80" y2="68.30" stroke="#4f5656" stroke-width="1.0"/>
<line x1="479.70" y1="39.60" x2="479.70" y2="50.40" stroke="#4f5656" stroke-width="1.0"/>
<line x1="479.70" y1="59.30" x2="479.70" y2="69.10" stroke="#4f5656" stroke-width="1.0"/>
<line x1="471.90" y1="39.60" x2="487.50" y2="39.60" stroke="#4f5656" stroke-width="1.0"/>
<line x1="471.90" y1="69.10" x2="487.50" y2="69.10" stroke="#4f5656" stroke-width="1.0"/>
<rect x="464.50" y="50.40" width="30.40" height="8.90" fill="#a5cd9f" stroke="#4f5656" stroke-width="1.0"/>
<line x1="464.50" y1="53.20" x2="494.90" y2="53.20" stroke="#4f5656" stroke-width="1.0"/>
<circle cx="479.70" cy="73.40" r="1.3" fill="none" stroke="#4f5656" stroke-width="1.0"/>
<circle cx="479.70" cy="81.10" r="1.3" fill="none" stroke="#4f5656" stroke-width="1.0"/>
<rect x="384.50" y="33.50" width="114.00" height="70.00" fill="none" stroke="#363939" stroke-width="1.0"/>
<line x1="381.50" y1="103.50" x2="384.50" y2="103.50" stroke="#363939" stroke-width="1.0"/>
<text transform="translate(378.50,105.41) scale(1,1.05)" font-size="6.7" text-anchor="end" fill="#262626" stroke="#262626">60</text>
<line x1="381.50" y1="80.17" x2="384.50" y2="80.17" stroke="#363939" stroke-width="1.0"/>
<text transform="translate(378.50,82.08) scale(1,1.05)" font-size="6.7" text-anchor="end" fill="#262626" stroke="#262626">70</text>
<line x1="381.50" y1="56.83" x2="384.50" y2="56.83" stroke="#363939" stroke-width="1.0"/>
<text transform="translate(378.50,58.75) scale(1,1.05)" font-size="6.7" text-anchor="end" fill="#262626" stroke="#262626">80</text>
<line x1="381.50" y1="33.50" x2="384.50" y2="33.50" stroke="#363939" stroke-width="1.0"/>
<text transform="translate(378.50,35.41) scale(1,1.05)" font-size="6.7" text-anchor="end" fill="#262626" stroke="#262626">90</text>
<line x1="403.30" y1="103.50" x2="403.30" y2="106.50" stroke="#363939" stroke-width="1.0"/>
<text transform="translate(403.30,115.02) scale(1,1.05)" font-size="6.7" text-anchor="middle" fill="#262626" stroke="#262626">F1 score</text>
<line x1="441.60" y1="103.50" x2="441.60" y2="106.50" stroke="#363939" stroke-width="1.0"/>
<text transform="translate(441.60,115.02) scale(1,1.05)" font-size="6.7" text-anchor="middle" fill="#262626" stroke="#262626">Precision</text>
<line x1="479.70" y1="103.50" x2="479.70" y2="106.50" stroke="#363939" stroke-width="1.0"/>
<text transform="translate(479.70,115.02) scale(1,1.05)" font-size="6.7" text-anchor="middle" fill="#262626" stroke="#262626">Recall</text>
<text transform="translate(365.51,67.70) rotate(-90) scale(1,1.05)" font-size="6.7" text-anchor="middle" fill="#262626" stroke="#262626">Percentage (%)</text>
<polygon points="198.60,72.90 210.30,71.90 225.70,70.10 241.00,67.30 251.20,64.20 265.00,59.10 280.40,53.00 300.90,45.30 321.80,36.60 321.80,60.50 300.90,62.70 280.40,66.30 265.00,69.90 251.20,72.90 241.00,76.50 225.70,81.60 210.30,87.20 198.60,91.80" fill="#fcd9cf"/>
<line x1="198.60" y1="83.00" x2="321.80" y2="51.50" stroke="#ef8a82" stroke-width="1.3"/>
<circle cx="198.60" cy="89.80" r="1.2" fill="#ef7f7f"/>
<circle cx="206.40" cy="82.30" r="1.2" fill="#ef7f7f"/>
<circle cx="208.20" cy="100.90" r="1.2" fill="#ef7f7f"/>
<circle cx="212.90" cy="75.80" r="1.2" fill="#ef7f7f"/>
<circle cx="219.70" cy="75.00" r="1.2" fill="#ef7f7f"/>
<circle cx="226.00" cy="71.70" r="1.2" fill="#ef7f7f"/>
<circle cx="232.60" cy="62.70" r="1.2" fill="#ef7f7f"/>
<circle cx="234.50" cy="69.90" r="1.2" fill="#ef7f7f"/>
<circle cx="244.20" cy="63.20" r="1.2" fill="#ef7f7f"/>
<circle cx="256.60" cy="81.60" r="1.2" fill="#ef7f7f"/>
<circle cx="265.10" cy="63.70" r="1.2" fill="#ef7f7f"/>
<circle cx="269.70" cy="75.00" r="1.2" fill="#ef7f7f"/>
<circle cx="272.10" cy="61.50" r="1.2" fill="#ef7f7f"/>
<circle cx="272.50" cy="48.60" r="1.2" fill="#ef7f7f"/>
<circle cx="277.90" cy="48.40" r="1.2" fill="#ef7f7f"/>
<circle cx="281.80" cy="50.20" r="1.2" fill="#ef7f7f"/>
<circle cx="293.50" cy="62.00" r="1.2" fill="#ef7f7f"/>
<circle cx="303.90" cy="57.30" r="1.2" fill="#ef7f7f"/>
<circle cx="321.30" cy="68.10" r="1.2" fill="#ef7f7f"/>
<rect x="191.50" y="33.50" width="136.00" height="70.90" fill="none" stroke="#363939" stroke-width="1.0"/>
<line x1="188.50" y1="38.40" x2="191.50" y2="38.40" stroke="#363939" stroke-width="1.0"/>
<text transform="translate(184.90,40.31) scale(1,1.05)" font-size="6.7" text-anchor="end" fill="#262626" stroke="#262626">90</text>
<line x1="188.50" y1="58.40" x2="191.50" y2="58.40" stroke="#363939" stroke-width="1.0"/>
<text transform="translate(184.90,60.31) scale(1,1.05)" font-size="6.7" text-anchor="end" fill="#262626" stroke="#262626">80</text>
<line x1="188.50" y1="78.60" x2="191.50" y2="78.60" stroke="#363939" stroke-width="1.0"/>
<text transform="translate(184.90,80.51) scale(1,1.05)" font-size="6.7" text-anchor="end" fill="#262626" stroke="#262626">70</text>
<line x1="188.50" y1="98.90" x2="191.50" y2="98.90" stroke="#363939" stroke-width="1.0"/>
<text transform="translate(184.90,100.81) scale(1,1.05)" font-size="6.7" text-anchor="end" fill="#262626" stroke="#262626">60</text>
<line x1="213.40" y1="104.40" x2="213.40" y2="107.40" stroke="#363939" stroke-width="1.0"/>
<text transform="translate(213.40,116.42) scale(1,1.05)" font-size="6.7" text-anchor="middle" fill="#262626" stroke="#262626">200</text>
<line x1="236.10" y1="104.40" x2="236.10" y2="107.40" stroke="#363939" stroke-width="1.0"/>
<text transform="translate(236.10,116.42) scale(1,1.05)" font-size="6.7" text-anchor="middle" fill="#262626" stroke="#262626">400</text>
<line x1="259.40" y1="104.40" x2="259.40" y2="107.40" stroke="#363939" stroke-width="1.0"/>
<text transform="translate(259.40,116.42) scale(1,1.05)" font-size="6.7" text-anchor="middle" fill="#262626" stroke="#262626">800</text>
<line x1="282.30" y1="104.40" x2="282.30" y2="107.40" stroke="#363939" stroke-width="1.0"/>
<text transform="translate(282.30,116.42) scale(1,1.05)" font-size="6.7" text-anchor="middle" fill="#262626" stroke="#262626">1000</text>
<line x1="305.40" y1="104.40" x2="305.40" y2="107.40" stroke="#363939" stroke-width="1.0"/>
<text transform="translate(305.40,116.42) scale(1,1.05)" font-size="6.7" text-anchor="middle" fill="#262626" stroke="#262626">1200</text>
<text transform="translate(169.41,65.90) rotate(-90) scale(1,1.05)" font-size="6.7" text-anchor="middle" fill="#262626" stroke="#262626">F1 score (%)</text>
<text transform="translate(259.50,128.10) scale(1,1.05)" font-size="6.7" text-anchor="middle" fill="#262626" stroke="#262626">Number of sleep spindles</text>
<text transform="translate(194.6,44.5) scale(1,1.05)" font-size="6.65" fill="#262626" stroke="#262626"><tspan font-style="italic">r</tspan> = 0.677, <tspan font-style="italic">P</tspan> = 0.001</text>
<polygon points="553.20,70.90 575.70,67.80 596.10,63.70 612.40,58.60 630.80,51.50 651.30,44.70 676.40,37.20 676.40,58.60 651.30,60.20 630.80,63.70 612.40,69.90 596.10,77.00 575.70,88.20 553.20,98.50" fill="#fcd9cf"/>
<line x1="553.20" y1="81.90" x2="676.40" y2="50.50" stroke="#ef8a82" stroke-width="1.3"/>
<circle cx="553.20" cy="72.00" r="1.2" fill="#ef7f7f"/>
<circle cx="560.70" cy="78.30" r="1.2" fill="#ef7f7f"/>
<circle cx="575.00" cy="101.20" r="1.2" fill="#ef7f7f"/>
<circle cx="589.20" cy="68.60" r="1.2" fill="#ef7f7f"/>
<circle cx="593.00" cy="63.80" r="1.2" fill="#ef7f7f"/>
<circle cx="601.10" cy="63.20" r="1.2" fill="#ef7f7f"/>
<circle cx="616.40" cy="58.90" r="1.2" fill="#ef7f7f"/>
<circle cx="618.10" cy="73.30" r="1.2" fill="#ef7f7f"/>
<circle cx="619.70" cy="79.50" r="1.2" fill="#ef7f7f"/>
<circle cx="624.10" cy="54.50" r="1.2" fill="#ef7f7f"/>
<circle cx="629.80" cy="58.90" r="1.2" fill="#ef7f7f"/>
<circle cx="632.00" cy="65.30" r="1.2" fill="#ef7f7f"/>
<circle cx="634.00" cy="54.80" r="1.2" fill="#ef7f7f"/>
<circle cx="656.50" cy="47.50" r="1.2" fill="#ef7f7f"/>
<circle cx="676.50" cy="57.10" r="1.2" fill="#ef7f7f"/>
<rect x="547.00" y="33.50" width="135.50" height="71.00" fill="none" stroke="#363939" stroke-width="1.0"/>
<line x1="544.00" y1="35.70" x2="547.00" y2="35.70" stroke="#363939" stroke-width="1.0"/>
<text transform="translate(540.40,37.61) scale(1,1.05)" font-size="6.7" text-anchor="end" fill="#262626" stroke="#262626">90</text>
<line x1="544.00" y1="49.20" x2="547.00" y2="49.20" stroke="#363939" stroke-width="1.0"/>
<text transform="translate(540.40,51.11) scale(1,1.05)" font-size="6.7" text-anchor="end" fill="#262626" stroke="#262626">85</text>
<line x1="544.00" y1="62.70" x2="547.00" y2="62.70" stroke="#363939" stroke-width="1.0"/>
<text transform="translate(540.40,64.61) scale(1,1.05)" font-size="6.7" text-anchor="end" fill="#262626" stroke="#262626">80</text>
<line x1="544.00" y1="76.10" x2="547.00" y2="76.10" stroke="#363939" stroke-width="1.0"/>
<text transform="translate(540.40,78.01) scale(1,1.05)" font-size="6.7" text-anchor="end" fill="#262626" stroke="#262626">75</text>
<line x1="544.00" y1="89.50" x2="547.00" y2="89.50" stroke="#363939" stroke-width="1.0"/>
<text transform="translate(540.40,91.41) scale(1,1.05)" font-size="6.7" text-anchor="end" fill="#262626" stroke="#262626">70</text>
<line x1="544.00" y1="103.10" x2="547.00" y2="103.10" stroke="#363939" stroke-width="1.0"/>
<text transform="translate(540.40,105.01) scale(1,1.05)" font-size="6.7" text-anchor="end" fill="#262626" stroke="#262626">65</text>
<line x1="558.40" y1="104.50" x2="558.40" y2="107.50" stroke="#363939" stroke-width="1.0"/>
<text transform="translate(558.40,116.52) scale(1,1.05)" font-size="6.7" text-anchor="middle" fill="#262626" stroke="#262626">500</text>
<line x1="590.50" y1="104.50" x2="590.50" y2="107.50" stroke="#363939" stroke-width="1.0"/>
<text transform="translate(590.50,116.52) scale(1,1.05)" font-size="6.7" text-anchor="middle" fill="#262626" stroke="#262626">1000</text>
<line x1="623.20" y1="104.50" x2="623.20" y2="107.50" stroke="#363939" stroke-width="1.0"/>
<text transform="translate(623.20,116.52) scale(1,1.05)" font-size="6.7" text-anchor="middle" fill="#262626" stroke="#262626">1500</text>
<line x1="656.10" y1="104.50" x2="656.10" y2="107.50" stroke="#363939" stroke-width="1.0"/>
<text transform="translate(656.10,116.52) scale(1,1.05)" font-size="6.7" text-anchor="middle" fill="#262626" stroke="#262626">2000</text>
<text transform="translate(525.81,65.90) rotate(-90) scale(1,1.05)" font-size="6.7" text-anchor="middle" fill="#262626" stroke="#262626">F1 score (%)</text>
<text transform="translate(614.75,128.20) scale(1,1.05)" font-size="6.7" text-anchor="middle" fill="#262626" stroke="#262626">Number of sleep spindles</text>
<text transform="translate(550.3,45.2) scale(1,1.05)" font-size="6.65" fill="#262626" stroke="#262626" style="white-space:pre"><tspan font-style="italic">r</tspan> = 0.679,  <tspan font-style="italic">P</tspan> = 0.005</text>
<rect x="85.50" y="181.50" width="598.00" height="110.90" fill="none" stroke="#363939" stroke-width="1.0"/>
<line x1="82.50" y1="181.30" x2="85.50" y2="181.30" stroke="#363939" stroke-width="1.0"/>
<text transform="translate(79.70,183.16) scale(1,1.05)" font-size="6.55" text-anchor="end" fill="#262626" stroke="#262626">7.5</text>
<line x1="82.50" y1="199.78" x2="85.50" y2="199.78" stroke="#363939" stroke-width="1.0"/>
<text transform="translate(79.70,201.64) scale(1,1.05)" font-size="6.55" text-anchor="end" fill="#262626" stroke="#262626">5.0</text>
<line x1="82.50" y1="218.27" x2="85.50" y2="218.27" stroke="#363939" stroke-width="1.0"/>
<text transform="translate(79.70,220.12) scale(1,1.05)" font-size="6.55" text-anchor="end" fill="#262626" stroke="#262626">2.5</text>
<line x1="82.50" y1="236.75" x2="85.50" y2="236.75" stroke="#363939" stroke-width="1.0"/>
<text transform="translate(79.70,238.61) scale(1,1.05)" font-size="6.55" text-anchor="end" fill="#262626" stroke="#262626">0.0</text>
<line x1="82.50" y1="255.23" x2="85.50" y2="255.23" stroke="#363939" stroke-width="1.0"/>
<text transform="translate(79.70,257.09) scale(1,1.05)" font-size="6.55" text-anchor="end" fill="#262626" stroke="#262626">-2.5</text>
<line x1="82.50" y1="273.72" x2="85.50" y2="273.72" stroke="#363939" stroke-width="1.0"/>
<text transform="translate(79.70,275.57) scale(1,1.05)" font-size="6.55" text-anchor="end" fill="#262626" stroke="#262626">-5.0</text>
<line x1="82.50" y1="292.20" x2="85.50" y2="292.20" stroke="#363939" stroke-width="1.0"/>
<text transform="translate(79.70,294.06) scale(1,1.05)" font-size="6.55" text-anchor="end" fill="#262626" stroke="#262626">-7.5</text>
<line x1="85.50" y1="292.40" x2="85.50" y2="295.40" stroke="#363939" stroke-width="1.0"/>
<text transform="translate(85.50,303.34) scale(1,1.05)" font-size="6.3" text-anchor="middle" fill="#262626" stroke="#262626">0</text>
<line x1="145.32" y1="292.40" x2="145.32" y2="295.40" stroke="#363939" stroke-width="1.0"/>
<text transform="translate(145.32,303.34) scale(1,1.05)" font-size="6.3" text-anchor="middle" fill="#262626" stroke="#262626">200</text>
<line x1="205.14" y1="292.40" x2="205.14" y2="295.40" stroke="#363939" stroke-width="1.0"/>
<text transform="translate(205.14,303.34) scale(1,1.05)" font-size="6.3" text-anchor="middle" fill="#262626" stroke="#262626">400</text>
<line x1="264.96" y1="292.40" x2="264.96" y2="295.40" stroke="#363939" stroke-width="1.0"/>
<text transform="translate(264.96,303.34) scale(1,1.05)" font-size="6.3" text-anchor="middle" fill="#262626" stroke="#262626">600</text>
<line x1="324.78" y1="292.40" x2="324.78" y2="295.40" stroke="#363939" stroke-width="1.0"/>
<text transform="translate(324.78,303.34) scale(1,1.05)" font-size="6.3" text-anchor="middle" fill="#262626" stroke="#262626">800</text>
<line x1="384.60" y1="292.40" x2="384.60" y2="295.40" stroke="#363939" stroke-width="1.0"/>
<text transform="translate(384.60,303.34) scale(1,1.05)" font-size="6.3" text-anchor="middle" fill="#262626" stroke="#262626">1000</text>
<line x1="444.42" y1="292.40" x2="444.42" y2="295.40" stroke="#363939" stroke-width="1.0"/>
<text transform="translate(444.42,303.34) scale(1,1.05)" font-size="6.3" text-anchor="middle" fill="#262626" stroke="#262626">1200</text>
<line x1="504.24" y1="292.40" x2="504.24" y2="295.40" stroke="#363939" stroke-width="1.0"/>
<text transform="translate(504.24,303.34) scale(1,1.05)" font-size="6.3" text-anchor="middle" fill="#262626" stroke="#262626">1400</text>
<line x1="564.06" y1="292.40" x2="564.06" y2="295.40" stroke="#363939" stroke-width="1.0"/>
<text transform="translate(564.06,303.34) scale(1,1.05)" font-size="6.3" text-anchor="middle" fill="#262626" stroke="#262626">1600</text>
<line x1="623.88" y1="292.40" x2="623.88" y2="295.40" stroke="#363939" stroke-width="1.0"/>
<text transform="translate(623.88,303.34) scale(1,1.05)" font-size="6.3" text-anchor="middle" fill="#262626" stroke="#262626">1800</text>
<text transform="translate(56.77,236.25) rotate(-90) scale(1,1.05)" font-size="9.35" text-anchor="middle" fill="#262626" stroke="#262626">Amplitude (μv)</text>
<text transform="translate(22.80,234.30) scale(1,1.05)" font-size="9.45" text-anchor="middle" fill="#262626" stroke="#262626">Original</text>
<text transform="translate(22.80,245.50) scale(1,1.05)" font-size="9.45" text-anchor="middle" fill="#262626" stroke="#262626">signal</text>
<rect x="86.00" y="345.20" width="597.50" height="110.30" fill="none" stroke="#363939" stroke-width="1.0"/>
<line x1="83.00" y1="345.00" x2="86.00" y2="345.00" stroke="#363939" stroke-width="1.0"/>
<text transform="translate(80.20,346.86) scale(1,1.05)" font-size="6.55" text-anchor="end" fill="#262626" stroke="#262626">7.5</text>
<line x1="83.00" y1="363.38" x2="86.00" y2="363.38" stroke="#363939" stroke-width="1.0"/>
<text transform="translate(80.20,365.24) scale(1,1.05)" font-size="6.55" text-anchor="end" fill="#262626" stroke="#262626">5.0</text>
<line x1="83.00" y1="381.77" x2="86.00" y2="381.77" stroke="#363939" stroke-width="1.0"/>
<text transform="translate(80.20,383.62) scale(1,1.05)" font-size="6.55" text-anchor="end" fill="#262626" stroke="#262626">2.5</text>
<line x1="83.00" y1="400.15" x2="86.00" y2="400.15" stroke="#363939" stroke-width="1.0"/>
<text transform="translate(80.20,402.01) scale(1,1.05)" font-size="6.55" text-anchor="end" fill="#262626" stroke="#262626">0.0</text>
<line x1="83.00" y1="418.53" x2="86.00" y2="418.53" stroke="#363939" stroke-width="1.0"/>
<text transform="translate(80.20,420.39) scale(1,1.05)" font-size="6.55" text-anchor="end" fill="#262626" stroke="#262626">-2.5</text>
<line x1="83.00" y1="436.92" x2="86.00" y2="436.92" stroke="#363939" stroke-width="1.0"/>
<text transform="translate(80.20,438.77) scale(1,1.05)" font-size="6.55" text-anchor="end" fill="#262626" stroke="#262626">-5.0</text>
<line x1="83.00" y1="455.30" x2="86.00" y2="455.30" stroke="#363939" stroke-width="1.0"/>
<text transform="translate(80.20,457.16) scale(1,1.05)" font-size="6.55" text-anchor="end" fill="#262626" stroke="#262626">-7.5</text>
<line x1="86.00" y1="455.50" x2="86.00" y2="458.50" stroke="#363939" stroke-width="1.0"/>
<text transform="translate(86.00,466.44) scale(1,1.05)" font-size="6.3" text-anchor="middle" fill="#262626" stroke="#262626">0</text>
<line x1="145.82" y1="455.50" x2="145.82" y2="458.50" stroke="#363939" stroke-width="1.0"/>
<text transform="translate(145.82,466.44) scale(1,1.05)" font-size="6.3" text-anchor="middle" fill="#262626" stroke="#262626">200</text>
<line x1="205.64" y1="455.50" x2="205.64" y2="458.50" stroke="#363939" stroke-width="1.0"/>
<text transform="translate(205.64,466.44) scale(1,1.05)" font-size="6.3" text-anchor="middle" fill="#262626" stroke="#262626">400</text>
<line x1="265.46" y1="455.50" x2="265.46" y2="458.50" stroke="#363939" stroke-width="1.0"/>
<text transform="translate(265.46,466.44) scale(1,1.05)" font-size="6.3" text-anchor="middle" fill="#262626" stroke="#262626">600</text>
<line x1="325.28" y1="455.50" x2="325.28" y2="458.50" stroke="#363939" stroke-width="1.0"/>
<text transform="translate(325.28,466.44) scale(1,1.05)" font-size="6.3" text-anchor="middle" fill="#262626" stroke="#262626">800</text>
<line x1="385.10" y1="455.50" x2="385.10" y2="458.50" stroke="#363939" stroke-width="1.0"/>
<text transform="translate(385.10,466.44) scale(1,1.05)" font-size="6.3" text-anchor="middle" fill="#262626" stroke="#262626">1000</text>
<line x1="444.92" y1="455.50" x2="444.92" y2="458.50" stroke="#363939" stroke-width="1.0"/>
<text transform="translate(444.92,466.44) scale(1,1.05)" font-size="6.3" text-anchor="middle" fill="#262626" stroke="#262626">1200</text>
<line x1="504.74" y1="455.50" x2="504.74" y2="458.50" stroke="#363939" stroke-width="1.0"/>
<text transform="translate(504.74,466.44) scale(1,1.05)" font-size="6.3" text-anchor="middle" fill="#262626" stroke="#262626">1400</text>
<line x1="564.56" y1="455.50" x2="564.56" y2="458.50" stroke="#363939" stroke-width="1.0"/>
<text transform="translate(564.56,466.44) scale(1,1.05)" font-size="6.3" text-anchor="middle" fill="#262626" stroke="#262626">1600</text>
<line x1="624.38" y1="455.50" x2="624.38" y2="458.50" stroke="#363939" stroke-width="1.0"/>
<text transform="translate(624.38,466.44) scale(1,1.05)" font-size="6.3" text-anchor="middle" fill="#262626" stroke="#262626">1800</text>
<text transform="translate(56.77,399.65) rotate(-90) scale(1,1.05)" font-size="9.35" text-anchor="middle" fill="#262626" stroke="#262626">Amplitude (μv)</text>
<text transform="translate(22.80,397.30) scale(1,1.05)" font-size="9.45" text-anchor="middle" fill="#262626" stroke="#262626">Masked</text>
<text transform="translate(22.80,408.50) scale(1,1.05)" font-size="9.45" text-anchor="middle" fill="#262626" stroke="#262626">signal</text>
<rect x="84.00" y="507.50" width="600.30" height="110.00" fill="none" stroke="#363939" stroke-width="1.0"/>
<line x1="81.00" y1="507.50" x2="84.00" y2="507.50" stroke="#363939" stroke-width="1.0"/>
<text transform="translate(78.20,509.36) scale(1,1.05)" font-size="6.55" text-anchor="end" fill="#262626" stroke="#262626">7.5</text>
<line x1="81.00" y1="525.83" x2="84.00" y2="525.83" stroke="#363939" stroke-width="1.0"/>
<text transform="translate(78.20,527.69) scale(1,1.05)" font-size="6.55" text-anchor="end" fill="#262626" stroke="#262626">5.0</text>
<line x1="81.00" y1="544.17" x2="84.00" y2="544.17" stroke="#363939" stroke-width="1.0"/>
<text transform="translate(78.20,546.02) scale(1,1.05)" font-size="6.55" text-anchor="end" fill="#262626" stroke="#262626">2.5</text>
<line x1="81.00" y1="562.50" x2="84.00" y2="562.50" stroke="#363939" stroke-width="1.0"/>
<text transform="translate(78.20,564.36) scale(1,1.05)" font-size="6.55" text-anchor="end" fill="#262626" stroke="#262626">0.0</text>
<line x1="81.00" y1="580.83" x2="84.00" y2="580.83" stroke="#363939" stroke-width="1.0"/>
<text transform="translate(78.20,582.69) scale(1,1.05)" font-size="6.55" text-anchor="end" fill="#262626" stroke="#262626">-2.5</text>
<line x1="81.00" y1="599.17" x2="84.00" y2="599.17" stroke="#363939" stroke-width="1.0"/>
<text transform="translate(78.20,601.02) scale(1,1.05)" font-size="6.55" text-anchor="end" fill="#262626" stroke="#262626">-5.0</text>
<line x1="81.00" y1="617.50" x2="84.00" y2="617.50" stroke="#363939" stroke-width="1.0"/>
<text transform="translate(78.20,619.36) scale(1,1.05)" font-size="6.55" text-anchor="end" fill="#262626" stroke="#262626">-7.5</text>
<line x1="84.00" y1="617.50" x2="84.00" y2="620.50" stroke="#363939" stroke-width="1.0"/>
<text transform="translate(84.00,628.44) scale(1,1.05)" font-size="6.3" text-anchor="middle" fill="#262626" stroke="#262626">0</text>
<line x1="143.94" y1="617.50" x2="143.94" y2="620.50" stroke="#363939" stroke-width="1.0"/>
<text transform="translate(143.94,628.44) scale(1,1.05)" font-size="6.3" text-anchor="middle" fill="#262626" stroke="#262626">200</text>
<line x1="203.88" y1="617.50" x2="203.88" y2="620.50" stroke="#363939" stroke-width="1.0"/>
<text transform="translate(203.88,628.44) scale(1,1.05)" font-size="6.3" text-anchor="middle" fill="#262626" stroke="#262626">400</text>
<line x1="263.82" y1="617.50" x2="263.82" y2="620.50" stroke="#363939" stroke-width="1.0"/>
<text transform="translate(263.82,628.44) scale(1,1.05)" font-size="6.3" text-anchor="middle" fill="#262626" stroke="#262626">600</text>
<line x1="323.76" y1="617.50" x2="323.76" y2="620.50" stroke="#363939" stroke-width="1.0"/>
<text transform="translate(323.76,628.44) scale(1,1.05)" font-size="6.3" text-anchor="middle" fill="#262626" stroke="#262626">800</text>
<line x1="383.70" y1="617.50" x2="383.70" y2="620.50" stroke="#363939" stroke-width="1.0"/>
<text transform="translate(383.70,628.44) scale(1,1.05)" font-size="6.3" text-anchor="middle" fill="#262626" stroke="#262626">1000</text>
<line x1="443.64" y1="617.50" x2="443.64" y2="620.50" stroke="#363939" stroke-width="1.0"/>
<text transform="translate(443.64,628.44) scale(1,1.05)" font-size="6.3" text-anchor="middle" fill="#262626" stroke="#262626">1200</text>
<line x1="503.58" y1="617.50" x2="503.58" y2="620.50" stroke="#363939" stroke-width="1.0"/>
<text transform="translate(503.58,628.44) scale(1,1.05)" font-size="6.3" text-anchor="middle" fill="#262626" stroke="#262626">1400</text>
<line x1="563.52" y1="617.50" x2="563.52" y2="620.50" stroke="#363939" stroke-width="1.0"/>
<text transform="translate(563.52,628.44) scale(1,1.05)" font-size="6.3" text-anchor="middle" fill="#262626" stroke="#262626">1600</text>
<line x1="623.46" y1="617.50" x2="623.46" y2="620.50" stroke="#363939" stroke-width="1.0"/>
<text transform="translate(623.46,628.44) scale(1,1.05)" font-size="6.3" text-anchor="middle" fill="#262626" stroke="#262626">1800</text>
<text transform="translate(56.77,562.00) rotate(-90) scale(1,1.05)" font-size="9.35" text-anchor="middle" fill="#262626" stroke="#262626">Amplitude (μv)</text>
<text transform="translate(22.80,562.30) scale(1,1.05)" font-size="9.45" text-anchor="middle" fill="#262626" stroke="#262626">Generated</text>
<text transform="translate(22.80,573.50) scale(1,1.05)" font-size="9.45" text-anchor="middle" fill="#262626" stroke="#262626">signal</text>
<text transform="translate(384.30,649.20) scale(1,1.05)" font-size="9.3" text-anchor="middle" fill="#262626" stroke="#262626">Time (ms)</text>
<rect x="138.40" y="279.30" width="47.30" height="4.40" fill="#c2858a" stroke="none" stroke-width="0"/>
<rect x="320.10" y="279.30" width="42.00" height="4.40" fill="#c2858a" stroke="none" stroke-width="0"/>
<rect x="574.00" y="279.30" width="45.60" height="4.40" fill="#c2858a" stroke="none" stroke-width="0"/>
<rect x="593.60" y="192.10" width="19.90" height="4.40" fill="#c2858a" stroke="none" stroke-width="0"/>
<text transform="translate(617.20,197.30) scale(1,1.05)" font-size="9.3" text-anchor="start" fill="#262626" stroke="#262626">Sleep spindles</text>
<line x1="384.50" y1="304.90" x2="384.50" y2="314.10" stroke="#1a1a1a" stroke-width="1.1"/>
<polygon points="381.40,311.20 384.50,312.80 387.60,311.20 384.50,316.60" fill="#1a1a1a"/>
<rect x="311.00" y="316.90" width="145.90" height="13.80" fill="#8b948e" stroke="none" stroke-width="0" rx="6.90" ry="6.90"/>
<text transform="translate(382.55,326.80) scale(1,1.05)" font-size="9.45" text-anchor="middle" fill="#f4f4f4" stroke="#f4f4f4" style="stroke:none">Randomly masked</text>
<line x1="384.50" y1="330.50" x2="384.50" y2="339.50" stroke="#1a1a1a" stroke-width="1.1"/>
<polygon points="381.40,336.60 384.50,338.20 387.60,336.60 384.50,342.00" fill="#1a1a1a"/>
<line x1="384.50" y1="468.40" x2="384.50" y2="478.10" stroke="#1a1a1a" stroke-width="1.1"/>
<polygon points="381.40,475.20 384.50,476.80 387.60,475.20 384.50,480.60" fill="#1a1a1a"/>
<rect x="311.70" y="481.20" width="145.70" height="13.70" fill="#215581" stroke="none" stroke-width="0" rx="6.85" ry="6.85"/>
<text transform="translate(384.55,491.05) scale(1,1.05)" font-size="9.45" text-anchor="middle" fill="#f4f4f4" stroke="#f4f4f4" style="stroke:none">SleepGPT</text>
<line x1="384.50" y1="494.90" x2="384.50" y2="503.40" stroke="#1a1a1a" stroke-width="1.1"/>
<polygon points="381.40,500.50 384.50,502.10 387.60,500.50 384.50,505.90" fill="#1a1a1a"/>
<text transform="translate(190.20,700.90) scale(1,1.05)" font-size="9.2" text-anchor="middle" fill="#262626" stroke="#262626">Expert 1</text>
<text transform="translate(532.60,700.90) scale(1,1.05)" font-size="9.2" text-anchor="middle" fill="#262626" stroke="#262626">Expert 2</text>
<rect x="52.43" y="735.40" width="11.73" height="87.60" fill="#e59294" stroke="none" stroke-width="0"/>
<rect x="67.10" y="782.33" width="11.73" height="40.67" fill="#e59294" stroke="none" stroke-width="0"/>
<rect x="81.76" y="777.01" width="11.73" height="45.99" fill="#e59294" stroke="none" stroke-width="0"/>
<rect x="96.43" y="764.18" width="11.73" height="58.82" fill="#e59294" stroke="none" stroke-width="0"/>
<rect x="111.10" y="766.69" width="11.73" height="56.31" fill="#e59294" stroke="none" stroke-width="0"/>
<rect x="125.77" y="814.87" width="11.73" height="8.13" fill="#e59294" stroke="none" stroke-width="0"/>
<rect x="140.43" y="750.42" width="11.73" height="72.58" fill="#e59294" stroke="none" stroke-width="0"/>
<rect x="155.10" y="751.98" width="11.73" height="71.02" fill="#e59294" stroke="none" stroke-width="0"/>
<rect x="169.77" y="729.46" width="11.73" height="93.54" fill="#e59294" stroke="none" stroke-width="0"/>
<rect x="184.43" y="731.96" width="11.73" height="91.04" fill="#e59294" stroke="none" stroke-width="0"/>
<rect x="199.10" y="774.51" width="11.73" height="48.49" fill="#e59294" stroke="none" stroke-width="0"/>
<rect x="213.77" y="741.34" width="11.73" height="81.66" fill="#e59294" stroke="none" stroke-width="0"/>
<rect x="228.43" y="775.13" width="11.73" height="47.87" fill="#e59294" stroke="none" stroke-width="0"/>
<rect x="243.10" y="749.48" width="11.73" height="73.52" fill="#e59294" stroke="none" stroke-width="0"/>
<rect x="257.77" y="782.02" width="11.73" height="40.98" fill="#e59294" stroke="none" stroke-width="0"/>
<rect x="272.44" y="762.31" width="11.73" height="60.69" fill="#e59294" stroke="none" stroke-width="0"/>
<rect x="287.10" y="748.54" width="11.73" height="74.46" fill="#e59294" stroke="none" stroke-width="0"/>
<rect x="301.77" y="740.41" width="11.73" height="82.59" fill="#e59294" stroke="none" stroke-width="0"/>
<rect x="316.44" y="774.51" width="11.73" height="48.49" fill="#e59294" stroke="none" stroke-width="0"/>
<rect x="38.50" y="713.50" width="303.50" height="109.50" fill="none" stroke="#363939" stroke-width="1.0"/>
<line x1="35.50" y1="823.00" x2="38.50" y2="823.00" stroke="#363939" stroke-width="1.0"/>
<text transform="translate(32.10,824.84) scale(1,1.05)" font-size="6.5" text-anchor="end" fill="#262626" stroke="#262626">50</text>
<line x1="35.50" y1="807.36" x2="38.50" y2="807.36" stroke="#363939" stroke-width="1.0"/>
<text transform="translate(32.10,809.20) scale(1,1.05)" font-size="6.5" text-anchor="end" fill="#262626" stroke="#262626">55</text>
<line x1="35.50" y1="791.71" x2="38.50" y2="791.71" stroke="#363939" stroke-width="1.0"/>
<text transform="translate(32.10,793.55) scale(1,1.05)" font-size="6.5" text-anchor="end" fill="#262626" stroke="#262626">60</text>
<line x1="35.50" y1="776.07" x2="38.50" y2="776.07" stroke="#363939" stroke-width="1.0"/>
<text transform="translate(32.10,777.91) scale(1,1.05)" font-size="6.5" text-anchor="end" fill="#262626" stroke="#262626">65</text>
<line x1="35.50" y1="760.43" x2="38.50" y2="760.43" stroke="#363939" stroke-width="1.0"/>
<text transform="translate(32.10,762.27) scale(1,1.05)" font-size="6.5" text-anchor="end" fill="#262626" stroke="#262626">70</text>
<line x1="35.50" y1="744.79" x2="38.50" y2="744.79" stroke="#363939" stroke-width="1.0"/>
<text transform="translate(32.10,746.63) scale(1,1.05)" font-size="6.5" text-anchor="end" fill="#262626" stroke="#262626">75</text>
<line x1="35.50" y1="729.14" x2="38.50" y2="729.14" stroke="#363939" stroke-width="1.0"/>
<text transform="translate(32.10,730.98) scale(1,1.05)" font-size="6.5" text-anchor="end" fill="#262626" stroke="#262626">80</text>
<line x1="35.50" y1="713.50" x2="38.50" y2="713.50" stroke="#363939" stroke-width="1.0"/>
<text transform="translate(32.10,715.34) scale(1,1.05)" font-size="6.5" text-anchor="end" fill="#262626" stroke="#262626">85</text>
<line x1="58.30" y1="823.00" x2="58.30" y2="826.00" stroke="#363939" stroke-width="1.0"/>
<text transform="translate(58.30,834.28) scale(1,1.05)" font-size="6.5" text-anchor="middle" fill="#262626" stroke="#262626">1</text>
<line x1="72.96" y1="823.00" x2="72.96" y2="826.00" stroke="#363939" stroke-width="1.0"/>
<text transform="translate(72.96,834.28) scale(1,1.05)" font-size="6.5" text-anchor="middle" fill="#262626" stroke="#262626">2</text>
<line x1="87.63" y1="823.00" x2="87.63" y2="826.00" stroke="#363939" stroke-width="1.0"/>
<text transform="translate(87.63,834.28) scale(1,1.05)" font-size="6.5" text-anchor="middle" fill="#262626" stroke="#262626">3</text>
<line x1="102.30" y1="823.00" x2="102.30" y2="826.00" stroke="#363939" stroke-width="1.0"/>
<text transform="translate(102.30,834.28) scale(1,1.05)" font-size="6.5" text-anchor="middle" fill="#262626" stroke="#262626">4</text>
<line x1="116.97" y1="823.00" x2="116.97" y2="826.00" stroke="#363939" stroke-width="1.0"/>
<text transform="translate(116.97,834.28) scale(1,1.05)" font-size="6.5" text-anchor="middle" fill="#262626" stroke="#262626">5</text>
<line x1="131.63" y1="823.00" x2="131.63" y2="826.00" stroke="#363939" stroke-width="1.0"/>
<text transform="translate(131.63,834.28) scale(1,1.05)" font-size="6.5" text-anchor="middle" fill="#262626" stroke="#262626">6</text>
<line x1="146.30" y1="823.00" x2="146.30" y2="826.00" stroke="#363939" stroke-width="1.0"/>
<text transform="translate(146.30,834.28) scale(1,1.05)" font-size="6.5" text-anchor="middle" fill="#262626" stroke="#262626">7</text>
<line x1="160.97" y1="823.00" x2="160.97" y2="826.00" stroke="#363939" stroke-width="1.0"/>
<text transform="translate(160.97,834.28) scale(1,1.05)" font-size="6.5" text-anchor="middle" fill="#262626" stroke="#262626">8</text>
<line x1="175.63" y1="823.00" x2="175.63" y2="826.00" stroke="#363939" stroke-width="1.0"/>
<text transform="translate(175.63,834.28) scale(1,1.05)" font-size="6.5" text-anchor="middle" fill="#262626" stroke="#262626">9</text>
<line x1="190.30" y1="823.00" x2="190.30" y2="826.00" stroke="#363939" stroke-width="1.0"/>
<text transform="translate(190.30,834.28) scale(1,1.05)" font-size="6.5" text-anchor="middle" fill="#262626" stroke="#262626">10</text>
<line x1="204.97" y1="823.00" x2="204.97" y2="826.00" stroke="#363939" stroke-width="1.0"/>
<text transform="translate(204.97,834.28) scale(1,1.05)" font-size="6.5" text-anchor="middle" fill="#262626" stroke="#262626">11</text>
<line x1="219.63" y1="823.00" x2="219.63" y2="826.00" stroke="#363939" stroke-width="1.0"/>
<text transform="translate(219.63,834.28) scale(1,1.05)" font-size="6.5" text-anchor="middle" fill="#262626" stroke="#262626">12</text>
<line x1="234.30" y1="823.00" x2="234.30" y2="826.00" stroke="#363939" stroke-width="1.0"/>
<text transform="translate(234.30,834.28) scale(1,1.05)" font-size="6.5" text-anchor="middle" fill="#262626" stroke="#262626">13</text>
<line x1="248.97" y1="823.00" x2="248.97" y2="826.00" stroke="#363939" stroke-width="1.0"/>
<text transform="translate(248.97,834.28) scale(1,1.05)" font-size="6.5" text-anchor="middle" fill="#262626" stroke="#262626">14</text>
<line x1="263.63" y1="823.00" x2="263.63" y2="826.00" stroke="#363939" stroke-width="1.0"/>
<text transform="translate(263.63,834.28) scale(1,1.05)" font-size="6.5" text-anchor="middle" fill="#262626" stroke="#262626">15</text>
<line x1="278.30" y1="823.00" x2="278.30" y2="826.00" stroke="#363939" stroke-width="1.0"/>
<text transform="translate(278.30,834.28) scale(1,1.05)" font-size="6.5" text-anchor="middle" fill="#262626" stroke="#262626">16</text>
<line x1="292.97" y1="823.00" x2="292.97" y2="826.00" stroke="#363939" stroke-width="1.0"/>
<text transform="translate(292.97,834.28) scale(1,1.05)" font-size="6.5" text-anchor="middle" fill="#262626" stroke="#262626">17</text>
<line x1="307.64" y1="823.00" x2="307.64" y2="826.00" stroke="#363939" stroke-width="1.0"/>
<text transform="translate(307.64,834.28) scale(1,1.05)" font-size="6.5" text-anchor="middle" fill="#262626" stroke="#262626">18</text>
<line x1="322.30" y1="823.00" x2="322.30" y2="826.00" stroke="#363939" stroke-width="1.0"/>
<text transform="translate(322.30,834.28) scale(1,1.05)" font-size="6.5" text-anchor="middle" fill="#262626" stroke="#262626">19</text>
<text transform="translate(8.98,764.20) rotate(-90) scale(1,1.05)" font-size="9.4" text-anchor="middle" fill="#262626" stroke="#262626">F1 score (%)</text>
<rect x="53.00" y="871.88" width="11.73" height="86.42" fill="#d1e0ea" stroke="none" stroke-width="0"/>
<rect x="67.67" y="928.70" width="11.73" height="29.60" fill="#d1e0ea" stroke="none" stroke-width="0"/>
<rect x="82.33" y="908.91" width="11.73" height="49.39" fill="#d1e0ea" stroke="none" stroke-width="0"/>
<rect x="97.00" y="901.32" width="11.73" height="56.98" fill="#d1e0ea" stroke="none" stroke-width="0"/>
<rect x="111.67" y="899.10" width="11.73" height="59.20" fill="#d1e0ea" stroke="none" stroke-width="0"/>
<rect x="126.34" y="948.17" width="11.73" height="10.13" fill="#d1e0ea" stroke="none" stroke-width="0"/>
<rect x="141.00" y="881.06" width="11.73" height="77.24" fill="#d1e0ea" stroke="none" stroke-width="0"/>
<rect x="155.67" y="889.60" width="11.73" height="68.70" fill="#d1e0ea" stroke="none" stroke-width="0"/>
<rect x="170.34" y="858.90" width="11.73" height="99.40" fill="#d1e0ea" stroke="none" stroke-width="0"/>
<rect x="185.00" y="867.13" width="11.73" height="91.17" fill="#d1e0ea" stroke="none" stroke-width="0"/>
<rect x="199.67" y="919.68" width="11.73" height="38.62" fill="#d1e0ea" stroke="none" stroke-width="0"/>
<rect x="214.34" y="874.09" width="11.73" height="84.21" fill="#d1e0ea" stroke="none" stroke-width="0"/>
<rect x="229.00" y="927.91" width="11.73" height="30.39" fill="#d1e0ea" stroke="none" stroke-width="0"/>
<rect x="243.67" y="888.65" width="11.73" height="69.65" fill="#d1e0ea" stroke="none" stroke-width="0"/>
<rect x="258.34" y="902.58" width="11.73" height="55.72" fill="#d1e0ea" stroke="none" stroke-width="0"/>
<rect x="273.01" y="887.39" width="11.73" height="70.91" fill="#d1e0ea" stroke="none" stroke-width="0"/>
<rect x="287.67" y="880.42" width="11.73" height="77.88" fill="#d1e0ea" stroke="none" stroke-width="0"/>
<rect x="302.34" y="866.49" width="11.73" height="91.81" fill="#d1e0ea" stroke="none" stroke-width="0"/>
<rect x="317.01" y="918.73" width="11.73" height="39.57" fill="#d1e0ea" stroke="none" stroke-width="0"/>
<rect x="39.50" y="847.50" width="303.00" height="110.80" fill="none" stroke="#363939" stroke-width="1.0"/>
<line x1="36.50" y1="958.30" x2="39.50" y2="958.30" stroke="#363939" stroke-width="1.0"/>
<text transform="translate(33.10,960.14) scale(1,1.05)" font-size="6.5" text-anchor="end" fill="#262626" stroke="#262626">45</text>
<line x1="36.50" y1="942.47" x2="39.50" y2="942.47" stroke="#363939" stroke-width="1.0"/>
<text transform="translate(33.10,944.31) scale(1,1.05)" font-size="6.5" text-anchor="end" fill="#262626" stroke="#262626">50</text>
<line x1="36.50" y1="926.64" x2="39.50" y2="926.64" stroke="#363939" stroke-width="1.0"/>
<text transform="translate(33.10,928.48) scale(1,1.05)" font-size="6.5" text-anchor="end" fill="#262626" stroke="#262626">55</text>
<line x1="36.50" y1="910.81" x2="39.50" y2="910.81" stroke="#363939" stroke-width="1.0"/>
<text transform="translate(33.10,912.65) scale(1,1.05)" font-size="6.5" text-anchor="end" fill="#262626" stroke="#262626">60</text>
<line x1="36.50" y1="894.99" x2="39.50" y2="894.99" stroke="#363939" stroke-width="1.0"/>
<text transform="translate(33.10,896.83) scale(1,1.05)" font-size="6.5" text-anchor="end" fill="#262626" stroke="#262626">65</text>
<line x1="36.50" y1="879.16" x2="39.50" y2="879.16" stroke="#363939" stroke-width="1.0"/>
<text transform="translate(33.10,881.00) scale(1,1.05)" font-size="6.5" text-anchor="end" fill="#262626" stroke="#262626">70</text>
<line x1="36.50" y1="863.33" x2="39.50" y2="863.33" stroke="#363939" stroke-width="1.0"/>
<text transform="translate(33.10,865.17) scale(1,1.05)" font-size="6.5" text-anchor="end" fill="#262626" stroke="#262626">75</text>
<line x1="36.50" y1="847.50" x2="39.50" y2="847.50" stroke="#363939" stroke-width="1.0"/>
<text transform="translate(33.10,849.34) scale(1,1.05)" font-size="6.5" text-anchor="end" fill="#262626" stroke="#262626">80</text>
<line x1="58.87" y1="958.30" x2="58.87" y2="961.30" stroke="#363939" stroke-width="1.0"/>
<text transform="translate(58.87,969.58) scale(1,1.05)" font-size="6.5" text-anchor="middle" fill="#262626" stroke="#262626">1</text>
<line x1="73.53" y1="958.30" x2="73.53" y2="961.30" stroke="#363939" stroke-width="1.0"/>
<text transform="translate(73.53,969.58) scale(1,1.05)" font-size="6.5" text-anchor="middle" fill="#262626" stroke="#262626">2</text>
<line x1="88.20" y1="958.30" x2="88.20" y2="961.30" stroke="#363939" stroke-width="1.0"/>
<text transform="translate(88.20,969.58) scale(1,1.05)" font-size="6.5" text-anchor="middle" fill="#262626" stroke="#262626">3</text>
<line x1="102.87" y1="958.30" x2="102.87" y2="961.30" stroke="#363939" stroke-width="1.0"/>
<text transform="translate(102.87,969.58) scale(1,1.05)" font-size="6.5" text-anchor="middle" fill="#262626" stroke="#262626">4</text>
<line x1="117.53" y1="958.30" x2="117.53" y2="961.30" stroke="#363939" stroke-width="1.0"/>
<text transform="translate(117.53,969.58) scale(1,1.05)" font-size="6.5" text-anchor="middle" fill="#262626" stroke="#262626">5</text>
<line x1="132.20" y1="958.30" x2="132.20" y2="961.30" stroke="#363939" stroke-width="1.0"/>
<text transform="translate(132.20,969.58) scale(1,1.05)" font-size="6.5" text-anchor="middle" fill="#262626" stroke="#262626">6</text>
<line x1="146.87" y1="958.30" x2="146.87" y2="961.30" stroke="#363939" stroke-width="1.0"/>
<text transform="translate(146.87,969.58) scale(1,1.05)" font-size="6.5" text-anchor="middle" fill="#262626" stroke="#262626">7</text>
<line x1="161.54" y1="958.30" x2="161.54" y2="961.30" stroke="#363939" stroke-width="1.0"/>
<text transform="translate(161.54,969.58) scale(1,1.05)" font-size="6.5" text-anchor="middle" fill="#262626" stroke="#262626">8</text>
<line x1="176.20" y1="958.30" x2="176.20" y2="961.30" stroke="#363939" stroke-width="1.0"/>
<text transform="translate(176.20,969.58) scale(1,1.05)" font-size="6.5" text-anchor="middle" fill="#262626" stroke="#262626">9</text>
<line x1="190.87" y1="958.30" x2="190.87" y2="961.30" stroke="#363939" stroke-width="1.0"/>
<text transform="translate(190.87,969.58) scale(1,1.05)" font-size="6.5" text-anchor="middle" fill="#262626" stroke="#262626">10</text>
<line x1="205.54" y1="958.30" x2="205.54" y2="961.30" stroke="#363939" stroke-width="1.0"/>
<text transform="translate(205.54,969.58) scale(1,1.05)" font-size="6.5" text-anchor="middle" fill="#262626" stroke="#262626">11</text>
<line x1="220.20" y1="958.30" x2="220.20" y2="961.30" stroke="#363939" stroke-width="1.0"/>
<text transform="translate(220.20,969.58) scale(1,1.05)" font-size="6.5" text-anchor="middle" fill="#262626" stroke="#262626">12</text>
<line x1="234.87" y1="958.30" x2="234.87" y2="961.30" stroke="#363939" stroke-width="1.0"/>
<text transform="translate(234.87,969.58) scale(1,1.05)" font-size="6.5" text-anchor="middle" fill="#262626" stroke="#262626">13</text>
<line x1="249.54" y1="958.30" x2="249.54" y2="961.30" stroke="#363939" stroke-width="1.0"/>
<text transform="translate(249.54,969.58) scale(1,1.05)" font-size="6.5" text-anchor="middle" fill="#262626" stroke="#262626">14</text>
<line x1="264.20" y1="958.30" x2="264.20" y2="961.30" stroke="#363939" stroke-width="1.0"/>
<text transform="translate(264.20,969.58) scale(1,1.05)" font-size="6.5" text-anchor="middle" fill="#262626" stroke="#262626">15</text>
<line x1="278.87" y1="958.30" x2="278.87" y2="961.30" stroke="#363939" stroke-width="1.0"/>
<text transform="translate(278.87,969.58) scale(1,1.05)" font-size="6.5" text-anchor="middle" fill="#262626" stroke="#262626">16</text>
<line x1="293.54" y1="958.30" x2="293.54" y2="961.30" stroke="#363939" stroke-width="1.0"/>
<text transform="translate(293.54,969.58) scale(1,1.05)" font-size="6.5" text-anchor="middle" fill="#262626" stroke="#262626">17</text>
<line x1="308.21" y1="958.30" x2="308.21" y2="961.30" stroke="#363939" stroke-width="1.0"/>
<text transform="translate(308.21,969.58) scale(1,1.05)" font-size="6.5" text-anchor="middle" fill="#262626" stroke="#262626">18</text>
<line x1="322.87" y1="958.30" x2="322.87" y2="961.30" stroke="#363939" stroke-width="1.0"/>
<text transform="translate(322.87,969.58) scale(1,1.05)" font-size="6.5" text-anchor="middle" fill="#262626" stroke="#262626">19</text>
<text transform="translate(8.98,899.00) rotate(-90) scale(1,1.05)" font-size="9.4" text-anchor="middle" fill="#262626" stroke="#262626">Precision (%)</text>
<rect x="52.70" y="997.55" width="11.73" height="95.25" fill="#a8c99f" stroke="none" stroke-width="0"/>
<rect x="67.37" y="1024.72" width="11.73" height="68.08" fill="#a8c99f" stroke="none" stroke-width="0"/>
<rect x="82.03" y="1039.00" width="11.73" height="53.80" fill="#a8c99f" stroke="none" stroke-width="0"/>
<rect x="96.70" y="1021.16" width="11.73" height="71.64" fill="#a8c99f" stroke="none" stroke-width="0"/>
<rect x="111.37" y="1029.66" width="11.73" height="63.13" fill="#a8c99f" stroke="none" stroke-width="0"/>
<rect x="126.04" y="1071.11" width="11.73" height="21.69" fill="#a8c99f" stroke="none" stroke-width="0"/>
<rect x="140.70" y="1018.14" width="11.73" height="74.66" fill="#a8c99f" stroke="none" stroke-width="0"/>
<rect x="155.37" y="1011.00" width="11.73" height="81.80" fill="#a8c99f" stroke="none" stroke-width="0"/>
<rect x="170.04" y="1000.84" width="11.73" height="91.96" fill="#a8c99f" stroke="none" stroke-width="0"/>
<rect x="184.70" y="996.45" width="11.73" height="96.35" fill="#a8c99f" stroke="none" stroke-width="0"/>
<rect x="199.37" y="1021.16" width="11.73" height="71.64" fill="#a8c99f" stroke="none" stroke-width="0"/>
<rect x="214.04" y="1007.98" width="11.73" height="84.82" fill="#a8c99f" stroke="none" stroke-width="0"/>
<rect x="228.70" y="1007.98" width="11.73" height="84.82" fill="#a8c99f" stroke="none" stroke-width="0"/>
<rect x="243.37" y="1007.16" width="11.73" height="85.64" fill="#a8c99f" stroke="none" stroke-width="0"/>
<rect x="258.04" y="1055.74" width="11.73" height="37.06" fill="#a8c99f" stroke="none" stroke-width="0"/>
<rect x="272.71" y="1034.33" width="11.73" height="58.47" fill="#a8c99f" stroke="none" stroke-width="0"/>
<rect x="287.37" y="1015.39" width="11.73" height="77.41" fill="#a8c99f" stroke="none" stroke-width="0"/>
<rect x="302.04" y="1013.47" width="11.73" height="79.33" fill="#a8c99f" stroke="none" stroke-width="0"/>
<rect x="316.71" y="1022.25" width="11.73" height="70.55" fill="#a8c99f" stroke="none" stroke-width="0"/>
<rect x="38.90" y="983.00" width="303.10" height="109.80" fill="none" stroke="#363939" stroke-width="1.0"/>
<line x1="35.90" y1="1092.80" x2="38.90" y2="1092.80" stroke="#363939" stroke-width="1.0"/>
<text transform="translate(32.50,1094.64) scale(1,1.05)" font-size="6.5" text-anchor="end" fill="#262626" stroke="#262626">50</text>
<line x1="35.90" y1="1079.08" x2="38.90" y2="1079.08" stroke="#363939" stroke-width="1.0"/>
<text transform="translate(32.50,1080.91) scale(1,1.05)" font-size="6.5" text-anchor="end" fill="#262626" stroke="#262626">55</text>
<line x1="35.90" y1="1065.35" x2="38.90" y2="1065.35" stroke="#363939" stroke-width="1.0"/>
<text transform="translate(32.50,1067.19) scale(1,1.05)" font-size="6.5" text-anchor="end" fill="#262626" stroke="#262626">60</text>
<line x1="35.90" y1="1051.62" x2="38.90" y2="1051.62" stroke="#363939" stroke-width="1.0"/>
<text transform="translate(32.50,1053.46) scale(1,1.05)" font-size="6.5" text-anchor="end" fill="#262626" stroke="#262626">65</text>
<line x1="35.90" y1="1037.90" x2="38.90" y2="1037.90" stroke="#363939" stroke-width="1.0"/>
<text transform="translate(32.50,1039.74) scale(1,1.05)" font-size="6.5" text-anchor="end" fill="#262626" stroke="#262626">70</text>
<line x1="35.90" y1="1024.17" x2="38.90" y2="1024.17" stroke="#363939" stroke-width="1.0"/>
<text transform="translate(32.50,1026.01) scale(1,1.05)" font-size="6.5" text-anchor="end" fill="#262626" stroke="#262626">75</text>
<line x1="35.90" y1="1010.45" x2="38.90" y2="1010.45" stroke="#363939" stroke-width="1.0"/>
<text transform="translate(32.50,1012.29) scale(1,1.05)" font-size="6.5" text-anchor="end" fill="#262626" stroke="#262626">80</text>
<line x1="35.90" y1="996.73" x2="38.90" y2="996.73" stroke="#363939" stroke-width="1.0"/>
<text transform="translate(32.50,998.57) scale(1,1.05)" font-size="6.5" text-anchor="end" fill="#262626" stroke="#262626">85</text>
<line x1="35.90" y1="983.00" x2="38.90" y2="983.00" stroke="#363939" stroke-width="1.0"/>
<text transform="translate(32.50,984.84) scale(1,1.05)" font-size="6.5" text-anchor="end" fill="#262626" stroke="#262626">90</text>
<line x1="58.57" y1="1092.80" x2="58.57" y2="1095.80" stroke="#363939" stroke-width="1.0"/>
<text transform="translate(58.57,1104.08) scale(1,1.05)" font-size="6.5" text-anchor="middle" fill="#262626" stroke="#262626">1</text>
<line x1="73.23" y1="1092.80" x2="73.23" y2="1095.80" stroke="#363939" stroke-width="1.0"/>
<text transform="translate(73.23,1104.08) scale(1,1.05)" font-size="6.5" text-anchor="middle" fill="#262626" stroke="#262626">2</text>
<line x1="87.90" y1="1092.80" x2="87.90" y2="1095.80" stroke="#363939" stroke-width="1.0"/>
<text transform="translate(87.90,1104.08) scale(1,1.05)" font-size="6.5" text-anchor="middle" fill="#262626" stroke="#262626">3</text>
<line x1="102.57" y1="1092.80" x2="102.57" y2="1095.80" stroke="#363939" stroke-width="1.0"/>
<text transform="translate(102.57,1104.08) scale(1,1.05)" font-size="6.5" text-anchor="middle" fill="#262626" stroke="#262626">4</text>
<line x1="117.23" y1="1092.80" x2="117.23" y2="1095.80" stroke="#363939" stroke-width="1.0"/>
<text transform="translate(117.23,1104.08) scale(1,1.05)" font-size="6.5" text-anchor="middle" fill="#262626" stroke="#262626">5</text>
<line x1="131.90" y1="1092.80" x2="131.90" y2="1095.80" stroke="#363939" stroke-width="1.0"/>
<text transform="translate(131.90,1104.08) scale(1,1.05)" font-size="6.5" text-anchor="middle" fill="#262626" stroke="#262626">6</text>
<line x1="146.57" y1="1092.80" x2="146.57" y2="1095.80" stroke="#363939" stroke-width="1.0"/>
<text transform="translate(146.57,1104.08) scale(1,1.05)" font-size="6.5" text-anchor="middle" fill="#262626" stroke="#262626">7</text>
<line x1="161.24" y1="1092.80" x2="161.24" y2="1095.80" stroke="#363939" stroke-width="1.0"/>
<text transform="translate(161.24,1104.08) scale(1,1.05)" font-size="6.5" text-anchor="middle" fill="#262626" stroke="#262626">8</text>
<line x1="175.90" y1="1092.80" x2="175.90" y2="1095.80" stroke="#363939" stroke-width="1.0"/>
<text transform="translate(175.90,1104.08) scale(1,1.05)" font-size="6.5" text-anchor="middle" fill="#262626" stroke="#262626">9</text>
<line x1="190.57" y1="1092.80" x2="190.57" y2="1095.80" stroke="#363939" stroke-width="1.0"/>
<text transform="translate(190.57,1104.08) scale(1,1.05)" font-size="6.5" text-anchor="middle" fill="#262626" stroke="#262626">10</text>
<line x1="205.24" y1="1092.80" x2="205.24" y2="1095.80" stroke="#363939" stroke-width="1.0"/>
<text transform="translate(205.24,1104.08) scale(1,1.05)" font-size="6.5" text-anchor="middle" fill="#262626" stroke="#262626">11</text>
<line x1="219.90" y1="1092.80" x2="219.90" y2="1095.80" stroke="#363939" stroke-width="1.0"/>
<text transform="translate(219.90,1104.08) scale(1,1.05)" font-size="6.5" text-anchor="middle" fill="#262626" stroke="#262626">12</text>
<line x1="234.57" y1="1092.80" x2="234.57" y2="1095.80" stroke="#363939" stroke-width="1.0"/>
<text transform="translate(234.57,1104.08) scale(1,1.05)" font-size="6.5" text-anchor="middle" fill="#262626" stroke="#262626">13</text>
<line x1="249.24" y1="1092.80" x2="249.24" y2="1095.80" stroke="#363939" stroke-width="1.0"/>
<text transform="translate(249.24,1104.08) scale(1,1.05)" font-size="6.5" text-anchor="middle" fill="#262626" stroke="#262626">14</text>
<line x1="263.90" y1="1092.80" x2="263.90" y2="1095.80" stroke="#363939" stroke-width="1.0"/>
<text transform="translate(263.90,1104.08) scale(1,1.05)" font-size="6.5" text-anchor="middle" fill="#262626" stroke="#262626">15</text>
<line x1="278.57" y1="1092.80" x2="278.57" y2="1095.80" stroke="#363939" stroke-width="1.0"/>
<text transform="translate(278.57,1104.08) scale(1,1.05)" font-size="6.5" text-anchor="middle" fill="#262626" stroke="#262626">16</text>
<line x1="293.24" y1="1092.80" x2="293.24" y2="1095.80" stroke="#363939" stroke-width="1.0"/>
<text transform="translate(293.24,1104.08) scale(1,1.05)" font-size="6.5" text-anchor="middle" fill="#262626" stroke="#262626">17</text>
<line x1="307.91" y1="1092.80" x2="307.91" y2="1095.80" stroke="#363939" stroke-width="1.0"/>
<text transform="translate(307.91,1104.08) scale(1,1.05)" font-size="6.5" text-anchor="middle" fill="#262626" stroke="#262626">18</text>
<line x1="322.57" y1="1092.80" x2="322.57" y2="1095.80" stroke="#363939" stroke-width="1.0"/>
<text transform="translate(322.57,1104.08) scale(1,1.05)" font-size="6.5" text-anchor="middle" fill="#262626" stroke="#262626">19</text>
<text transform="translate(8.98,1032.60) rotate(-90) scale(1,1.05)" font-size="9.4" text-anchor="middle" fill="#262626" stroke="#262626">Recall (%)</text>
<rect x="394.41" y="736.92" width="11.74" height="86.08" fill="#f29996" stroke="none" stroke-width="0"/>
<rect x="409.08" y="738.02" width="11.74" height="84.98" fill="#f29996" stroke="none" stroke-width="0"/>
<rect x="423.76" y="753.70" width="11.74" height="69.30" fill="#f29996" stroke="none" stroke-width="0"/>
<rect x="453.12" y="756.17" width="11.74" height="66.83" fill="#f29996" stroke="none" stroke-width="0"/>
<rect x="467.80" y="777.90" width="11.74" height="45.10" fill="#f29996" stroke="none" stroke-width="0"/>
<rect x="482.47" y="735.00" width="11.74" height="88.00" fill="#f29996" stroke="none" stroke-width="0"/>
<rect x="511.83" y="731.42" width="11.74" height="91.58" fill="#f29996" stroke="none" stroke-width="0"/>
<rect x="526.51" y="727.02" width="11.74" height="95.98" fill="#f29996" stroke="none" stroke-width="0"/>
<rect x="541.19" y="751.77" width="11.74" height="71.23" fill="#f29996" stroke="none" stroke-width="0"/>
<rect x="555.86" y="742.15" width="11.74" height="80.85" fill="#f29996" stroke="none" stroke-width="0"/>
<rect x="570.54" y="737.20" width="11.74" height="85.80" fill="#f29996" stroke="none" stroke-width="0"/>
<rect x="585.22" y="741.33" width="11.74" height="81.67" fill="#f29996" stroke="none" stroke-width="0"/>
<rect x="629.25" y="738.30" width="11.74" height="84.70" fill="#f29996" stroke="none" stroke-width="0"/>
<rect x="643.93" y="752.60" width="11.74" height="70.40" fill="#f29996" stroke="none" stroke-width="0"/>
<rect x="658.61" y="751.23" width="11.74" height="71.77" fill="#f29996" stroke="none" stroke-width="0"/>
<rect x="380.90" y="713.00" width="303.60" height="110.00" fill="none" stroke="#363939" stroke-width="1.0"/>
<line x1="377.90" y1="823.00" x2="380.90" y2="823.00" stroke="#363939" stroke-width="1.0"/>
<text transform="translate(374.50,824.84) scale(1,1.05)" font-size="6.5" text-anchor="end" fill="#262626" stroke="#262626">50</text>
<line x1="377.90" y1="809.25" x2="380.90" y2="809.25" stroke="#363939" stroke-width="1.0"/>
<text transform="translate(374.50,811.09) scale(1,1.05)" font-size="6.5" text-anchor="end" fill="#262626" stroke="#262626">55</text>
<line x1="377.90" y1="795.50" x2="380.90" y2="795.50" stroke="#363939" stroke-width="1.0"/>
<text transform="translate(374.50,797.34) scale(1,1.05)" font-size="6.5" text-anchor="end" fill="#262626" stroke="#262626">60</text>
<line x1="377.90" y1="781.75" x2="380.90" y2="781.75" stroke="#363939" stroke-width="1.0"/>
<text transform="translate(374.50,783.59) scale(1,1.05)" font-size="6.5" text-anchor="end" fill="#262626" stroke="#262626">65</text>
<line x1="377.90" y1="768.00" x2="380.90" y2="768.00" stroke="#363939" stroke-width="1.0"/>
<text transform="translate(374.50,769.84) scale(1,1.05)" font-size="6.5" text-anchor="end" fill="#262626" stroke="#262626">70</text>
<line x1="377.90" y1="754.25" x2="380.90" y2="754.25" stroke="#363939" stroke-width="1.0"/>
<text transform="translate(374.50,756.09) scale(1,1.05)" font-size="6.5" text-anchor="end" fill="#262626" stroke="#262626">75</text>
<line x1="377.90" y1="740.50" x2="380.90" y2="740.50" stroke="#363939" stroke-width="1.0"/>
<text transform="translate(374.50,742.34) scale(1,1.05)" font-size="6.5" text-anchor="end" fill="#262626" stroke="#262626">80</text>
<line x1="377.90" y1="726.75" x2="380.90" y2="726.75" stroke="#363939" stroke-width="1.0"/>
<text transform="translate(374.50,728.59) scale(1,1.05)" font-size="6.5" text-anchor="end" fill="#262626" stroke="#262626">85</text>
<line x1="377.90" y1="713.00" x2="380.90" y2="713.00" stroke="#363939" stroke-width="1.0"/>
<text transform="translate(374.50,714.84) scale(1,1.05)" font-size="6.5" text-anchor="end" fill="#262626" stroke="#262626">90</text>
<line x1="400.28" y1="823.00" x2="400.28" y2="826.00" stroke="#363939" stroke-width="1.0"/>
<text transform="translate(400.28,834.28) scale(1,1.05)" font-size="6.5" text-anchor="middle" fill="#262626" stroke="#262626">1</text>
<line x1="414.96" y1="823.00" x2="414.96" y2="826.00" stroke="#363939" stroke-width="1.0"/>
<text transform="translate(414.96,834.28) scale(1,1.05)" font-size="6.5" text-anchor="middle" fill="#262626" stroke="#262626">2</text>
<line x1="429.63" y1="823.00" x2="429.63" y2="826.00" stroke="#363939" stroke-width="1.0"/>
<text transform="translate(429.63,834.28) scale(1,1.05)" font-size="6.5" text-anchor="middle" fill="#262626" stroke="#262626">3</text>
<line x1="444.31" y1="823.00" x2="444.31" y2="826.00" stroke="#363939" stroke-width="1.0"/>
<text transform="translate(444.31,834.28) scale(1,1.05)" font-size="6.5" text-anchor="middle" fill="#262626" stroke="#262626">4</text>
<line x1="458.99" y1="823.00" x2="458.99" y2="826.00" stroke="#363939" stroke-width="1.0"/>
<text transform="translate(458.99,834.28) scale(1,1.05)" font-size="6.5" text-anchor="middle" fill="#262626" stroke="#262626">5</text>
<line x1="473.67" y1="823.00" x2="473.67" y2="826.00" stroke="#363939" stroke-width="1.0"/>
<text transform="translate(473.67,834.28) scale(1,1.05)" font-size="6.5" text-anchor="middle" fill="#262626" stroke="#262626">6</text>
<line x1="488.35" y1="823.00" x2="488.35" y2="826.00" stroke="#363939" stroke-width="1.0"/>
<text transform="translate(488.35,834.28) scale(1,1.05)" font-size="6.5" text-anchor="middle" fill="#262626" stroke="#262626">7</text>
<line x1="503.02" y1="823.00" x2="503.02" y2="826.00" stroke="#363939" stroke-width="1.0"/>
<text transform="translate(503.02,834.28) scale(1,1.05)" font-size="6.5" text-anchor="middle" fill="#262626" stroke="#262626">8</text>
<line x1="517.70" y1="823.00" x2="517.70" y2="826.00" stroke="#363939" stroke-width="1.0"/>
<text transform="translate(517.70,834.28) scale(1,1.05)" font-size="6.5" text-anchor="middle" fill="#262626" stroke="#262626">9</text>
<line x1="532.38" y1="823.00" x2="532.38" y2="826.00" stroke="#363939" stroke-width="1.0"/>
<text transform="translate(532.38,834.28) scale(1,1.05)" font-size="6.5" text-anchor="middle" fill="#262626" stroke="#262626">10</text>
<line x1="547.06" y1="823.00" x2="547.06" y2="826.00" stroke="#363939" stroke-width="1.0"/>
<text transform="translate(547.06,834.28) scale(1,1.05)" font-size="6.5" text-anchor="middle" fill="#262626" stroke="#262626">11</text>
<line x1="561.74" y1="823.00" x2="561.74" y2="826.00" stroke="#363939" stroke-width="1.0"/>
<text transform="translate(561.74,834.28) scale(1,1.05)" font-size="6.5" text-anchor="middle" fill="#262626" stroke="#262626">12</text>
<line x1="576.41" y1="823.00" x2="576.41" y2="826.00" stroke="#363939" stroke-width="1.0"/>
<text transform="translate(576.41,834.28) scale(1,1.05)" font-size="6.5" text-anchor="middle" fill="#262626" stroke="#262626">13</text>
<line x1="591.09" y1="823.00" x2="591.09" y2="826.00" stroke="#363939" stroke-width="1.0"/>
<text transform="translate(591.09,834.28) scale(1,1.05)" font-size="6.5" text-anchor="middle" fill="#262626" stroke="#262626">14</text>
<line x1="605.77" y1="823.00" x2="605.77" y2="826.00" stroke="#363939" stroke-width="1.0"/>
<text transform="translate(605.77,834.28) scale(1,1.05)" font-size="6.5" text-anchor="middle" fill="#262626" stroke="#262626">15</text>
<line x1="620.45" y1="823.00" x2="620.45" y2="826.00" stroke="#363939" stroke-width="1.0"/>
<text transform="translate(620.45,834.28) scale(1,1.05)" font-size="6.5" text-anchor="middle" fill="#262626" stroke="#262626">16</text>
<line x1="635.13" y1="823.00" x2="635.13" y2="826.00" stroke="#363939" stroke-width="1.0"/>
<text transform="translate(635.13,834.28) scale(1,1.05)" font-size="6.5" text-anchor="middle" fill="#262626" stroke="#262626">17</text>
<line x1="649.80" y1="823.00" x2="649.80" y2="826.00" stroke="#363939" stroke-width="1.0"/>
<text transform="translate(649.80,834.28) scale(1,1.05)" font-size="6.5" text-anchor="middle" fill="#262626" stroke="#262626">18</text>
<line x1="664.48" y1="823.00" x2="664.48" y2="826.00" stroke="#363939" stroke-width="1.0"/>
<text transform="translate(664.48,834.28) scale(1,1.05)" font-size="6.5" text-anchor="middle" fill="#262626" stroke="#262626">19</text>
<rect x="395.11" y="875.39" width="11.74" height="83.11" fill="#d3e3ec" stroke="none" stroke-width="0"/>
<rect x="409.78" y="892.26" width="11.74" height="66.24" fill="#d3e3ec" stroke="none" stroke-width="0"/>
<rect x="424.46" y="900.32" width="11.74" height="58.18" fill="#d3e3ec" stroke="none" stroke-width="0"/>
<rect x="453.82" y="914.50" width="11.74" height="44.00" fill="#d3e3ec" stroke="none" stroke-width="0"/>
<rect x="468.50" y="930.88" width="11.74" height="27.62" fill="#d3e3ec" stroke="none" stroke-width="0"/>
<rect x="483.17" y="873.68" width="11.74" height="84.82" fill="#d3e3ec" stroke="none" stroke-width="0"/>
<rect x="512.53" y="862.43" width="11.74" height="96.07" fill="#d3e3ec" stroke="none" stroke-width="0"/>
<rect x="527.21" y="859.99" width="11.74" height="98.51" fill="#d3e3ec" stroke="none" stroke-width="0"/>
<rect x="541.89" y="902.28" width="11.74" height="56.22" fill="#d3e3ec" stroke="none" stroke-width="0"/>
<rect x="556.56" y="885.17" width="11.74" height="73.33" fill="#d3e3ec" stroke="none" stroke-width="0"/>
<rect x="571.24" y="892.74" width="11.74" height="65.76" fill="#d3e3ec" stroke="none" stroke-width="0"/>
<rect x="585.92" y="897.14" width="11.74" height="61.36" fill="#d3e3ec" stroke="none" stroke-width="0"/>
<rect x="629.95" y="889.57" width="11.74" height="68.93" fill="#d3e3ec" stroke="none" stroke-width="0"/>
<rect x="644.63" y="912.30" width="11.74" height="46.20" fill="#d3e3ec" stroke="none" stroke-width="0"/>
<rect x="659.31" y="890.79" width="11.74" height="67.71" fill="#d3e3ec" stroke="none" stroke-width="0"/>
<rect x="381.50" y="848.50" width="302.00" height="110.00" fill="none" stroke="#363939" stroke-width="1.0"/>
<line x1="378.50" y1="958.50" x2="381.50" y2="958.50" stroke="#363939" stroke-width="1.0"/>
<text transform="translate(375.10,960.34) scale(1,1.05)" font-size="6.5" text-anchor="end" fill="#262626" stroke="#262626">50</text>
<line x1="378.50" y1="946.28" x2="381.50" y2="946.28" stroke="#363939" stroke-width="1.0"/>
<text transform="translate(375.10,948.12) scale(1,1.05)" font-size="6.5" text-anchor="end" fill="#262626" stroke="#262626">55</text>
<line x1="378.50" y1="934.06" x2="381.50" y2="934.06" stroke="#363939" stroke-width="1.0"/>
<text transform="translate(375.10,935.90) scale(1,1.05)" font-size="6.5" text-anchor="end" fill="#262626" stroke="#262626">60</text>
<line x1="378.50" y1="921.83" x2="381.50" y2="921.83" stroke="#363939" stroke-width="1.0"/>
<text transform="translate(375.10,923.67) scale(1,1.05)" font-size="6.5" text-anchor="end" fill="#262626" stroke="#262626">65</text>
<line x1="378.50" y1="909.61" x2="381.50" y2="909.61" stroke="#363939" stroke-width="1.0"/>
<text transform="translate(375.10,911.45) scale(1,1.05)" font-size="6.5" text-anchor="end" fill="#262626" stroke="#262626">70</text>
<line x1="378.50" y1="897.39" x2="381.50" y2="897.39" stroke="#363939" stroke-width="1.0"/>
<text transform="translate(375.10,899.23) scale(1,1.05)" font-size="6.5" text-anchor="end" fill="#262626" stroke="#262626">75</text>
<line x1="378.50" y1="885.17" x2="381.50" y2="885.17" stroke="#363939" stroke-width="1.0"/>
<text transform="translate(375.10,887.01) scale(1,1.05)" font-size="6.5" text-anchor="end" fill="#262626" stroke="#262626">80</text>
<line x1="378.50" y1="872.94" x2="381.50" y2="872.94" stroke="#363939" stroke-width="1.0"/>
<text transform="translate(375.10,874.78) scale(1,1.05)" font-size="6.5" text-anchor="end" fill="#262626" stroke="#262626">85</text>
<line x1="378.50" y1="860.72" x2="381.50" y2="860.72" stroke="#363939" stroke-width="1.0"/>
<text transform="translate(375.10,862.56) scale(1,1.05)" font-size="6.5" text-anchor="end" fill="#262626" stroke="#262626">90</text>
<line x1="378.50" y1="848.50" x2="381.50" y2="848.50" stroke="#363939" stroke-width="1.0"/>
<text transform="translate(375.10,850.34) scale(1,1.05)" font-size="6.5" text-anchor="end" fill="#262626" stroke="#262626">95</text>
<line x1="400.98" y1="958.50" x2="400.98" y2="961.50" stroke="#363939" stroke-width="1.0"/>
<text transform="translate(400.98,969.78) scale(1,1.05)" font-size="6.5" text-anchor="middle" fill="#262626" stroke="#262626">1</text>
<line x1="415.66" y1="958.50" x2="415.66" y2="961.50" stroke="#363939" stroke-width="1.0"/>
<text transform="translate(415.66,969.78) scale(1,1.05)" font-size="6.5" text-anchor="middle" fill="#262626" stroke="#262626">2</text>
<line x1="430.33" y1="958.50" x2="430.33" y2="961.50" stroke="#363939" stroke-width="1.0"/>
<text transform="translate(430.33,969.78) scale(1,1.05)" font-size="6.5" text-anchor="middle" fill="#262626" stroke="#262626">3</text>
<line x1="445.01" y1="958.50" x2="445.01" y2="961.50" stroke="#363939" stroke-width="1.0"/>
<text transform="translate(445.01,969.78) scale(1,1.05)" font-size="6.5" text-anchor="middle" fill="#262626" stroke="#262626">4</text>
<line x1="459.69" y1="958.50" x2="459.69" y2="961.50" stroke="#363939" stroke-width="1.0"/>
<text transform="translate(459.69,969.78) scale(1,1.05)" font-size="6.5" text-anchor="middle" fill="#262626" stroke="#262626">5</text>
<line x1="474.37" y1="958.50" x2="474.37" y2="961.50" stroke="#363939" stroke-width="1.0"/>
<text transform="translate(474.37,969.78) scale(1,1.05)" font-size="6.5" text-anchor="middle" fill="#262626" stroke="#262626">6</text>
<line x1="489.05" y1="958.50" x2="489.05" y2="961.50" stroke="#363939" stroke-width="1.0"/>
<text transform="translate(489.05,969.78) scale(1,1.05)" font-size="6.5" text-anchor="middle" fill="#262626" stroke="#262626">7</text>
<line x1="503.72" y1="958.50" x2="503.72" y2="961.50" stroke="#363939" stroke-width="1.0"/>
<text transform="translate(503.72,969.78) scale(1,1.05)" font-size="6.5" text-anchor="middle" fill="#262626" stroke="#262626">8</text>
<line x1="518.40" y1="958.50" x2="518.40" y2="961.50" stroke="#363939" stroke-width="1.0"/>
<text transform="translate(518.40,969.78) scale(1,1.05)" font-size="6.5" text-anchor="middle" fill="#262626" stroke="#262626">9</text>
<line x1="533.08" y1="958.50" x2="533.08" y2="961.50" stroke="#363939" stroke-width="1.0"/>
<text transform="translate(533.08,969.78) scale(1,1.05)" font-size="6.5" text-anchor="middle" fill="#262626" stroke="#262626">10</text>
<line x1="547.76" y1="958.50" x2="547.76" y2="961.50" stroke="#363939" stroke-width="1.0"/>
<text transform="translate(547.76,969.78) scale(1,1.05)" font-size="6.5" text-anchor="middle" fill="#262626" stroke="#262626">11</text>
<line x1="562.44" y1="958.50" x2="562.44" y2="961.50" stroke="#363939" stroke-width="1.0"/>
<text transform="translate(562.44,969.78) scale(1,1.05)" font-size="6.5" text-anchor="middle" fill="#262626" stroke="#262626">12</text>
<line x1="577.11" y1="958.50" x2="577.11" y2="961.50" stroke="#363939" stroke-width="1.0"/>
<text transform="translate(577.11,969.78) scale(1,1.05)" font-size="6.5" text-anchor="middle" fill="#262626" stroke="#262626">13</text>
<line x1="591.79" y1="958.50" x2="591.79" y2="961.50" stroke="#363939" stroke-width="1.0"/>
<text transform="translate(591.79,969.78) scale(1,1.05)" font-size="6.5" text-anchor="middle" fill="#262626" stroke="#262626">14</text>
<line x1="606.47" y1="958.50" x2="606.47" y2="961.50" stroke="#363939" stroke-width="1.0"/>
<text transform="translate(606.47,969.78) scale(1,1.05)" font-size="6.5" text-anchor="middle" fill="#262626" stroke="#262626">15</text>
<line x1="621.15" y1="958.50" x2="621.15" y2="961.50" stroke="#363939" stroke-width="1.0"/>
<text transform="translate(621.15,969.78) scale(1,1.05)" font-size="6.5" text-anchor="middle" fill="#262626" stroke="#262626">16</text>
<line x1="635.83" y1="958.50" x2="635.83" y2="961.50" stroke="#363939" stroke-width="1.0"/>
<text transform="translate(635.83,969.78) scale(1,1.05)" font-size="6.5" text-anchor="middle" fill="#262626" stroke="#262626">17</text>
<line x1="650.50" y1="958.50" x2="650.50" y2="961.50" stroke="#363939" stroke-width="1.0"/>
<text transform="translate(650.50,969.78) scale(1,1.05)" font-size="6.5" text-anchor="middle" fill="#262626" stroke="#262626">18</text>
<line x1="665.18" y1="958.50" x2="665.18" y2="961.50" stroke="#363939" stroke-width="1.0"/>
<text transform="translate(665.18,969.78) scale(1,1.05)" font-size="6.5" text-anchor="middle" fill="#262626" stroke="#262626">19</text>
<rect x="394.51" y="1016.60" width="11.74" height="75.90" fill="#a8cfa1" stroke="none" stroke-width="0"/>
<rect x="409.18" y="999.55" width="11.74" height="92.95" fill="#a8cfa1" stroke="none" stroke-width="0"/>
<rect x="423.86" y="1022.38" width="11.74" height="70.12" fill="#a8cfa1" stroke="none" stroke-width="0"/>
<rect x="453.22" y="1007.80" width="11.74" height="84.70" fill="#a8cfa1" stroke="none" stroke-width="0"/>
<rect x="467.90" y="1033.38" width="11.74" height="59.12" fill="#a8cfa1" stroke="none" stroke-width="0"/>
<rect x="482.57" y="1014.40" width="11.74" height="78.10" fill="#a8cfa1" stroke="none" stroke-width="0"/>
<rect x="511.93" y="1018.52" width="11.74" height="73.98" fill="#a8cfa1" stroke="none" stroke-width="0"/>
<rect x="526.61" y="1013.85" width="11.74" height="78.65" fill="#a8cfa1" stroke="none" stroke-width="0"/>
<rect x="541.29" y="1015.77" width="11.74" height="76.73" fill="#a8cfa1" stroke="none" stroke-width="0"/>
<rect x="555.96" y="1016.33" width="11.74" height="76.17" fill="#a8cfa1" stroke="none" stroke-width="0"/>
<rect x="570.64" y="996.80" width="11.74" height="95.70" fill="#a8cfa1" stroke="none" stroke-width="0"/>
<rect x="585.32" y="1000.38" width="11.74" height="92.12" fill="#a8cfa1" stroke="none" stroke-width="0"/>
<rect x="629.35" y="1004.23" width="11.74" height="88.27" fill="#a8cfa1" stroke="none" stroke-width="0"/>
<rect x="644.03" y="1002.85" width="11.74" height="89.65" fill="#a8cfa1" stroke="none" stroke-width="0"/>
<rect x="658.71" y="1027.88" width="11.74" height="64.62" fill="#a8cfa1" stroke="none" stroke-width="0"/>
<rect x="381.00" y="982.50" width="302.50" height="110.00" fill="none" stroke="#363939" stroke-width="1.0"/>
<line x1="378.00" y1="1092.50" x2="381.00" y2="1092.50" stroke="#363939" stroke-width="1.0"/>
<text transform="translate(374.60,1094.34) scale(1,1.05)" font-size="6.5" text-anchor="end" fill="#262626" stroke="#262626">50</text>
<line x1="378.00" y1="1078.75" x2="381.00" y2="1078.75" stroke="#363939" stroke-width="1.0"/>
<text transform="translate(374.60,1080.59) scale(1,1.05)" font-size="6.5" text-anchor="end" fill="#262626" stroke="#262626">55</text>
<line x1="378.00" y1="1065.00" x2="381.00" y2="1065.00" stroke="#363939" stroke-width="1.0"/>
<text transform="translate(374.60,1066.84) scale(1,1.05)" font-size="6.5" text-anchor="end" fill="#262626" stroke="#262626">60</text>
<line x1="378.00" y1="1051.25" x2="381.00" y2="1051.25" stroke="#363939" stroke-width="1.0"/>
<text transform="translate(374.60,1053.09) scale(1,1.05)" font-size="6.5" text-anchor="end" fill="#262626" stroke="#262626">65</text>
<line x1="378.00" y1="1037.50" x2="381.00" y2="1037.50" stroke="#363939" stroke-width="1.0"/>
<text transform="translate(374.60,1039.34) scale(1,1.05)" font-size="6.5" text-anchor="end" fill="#262626" stroke="#262626">70</text>
<line x1="378.00" y1="1023.75" x2="381.00" y2="1023.75" stroke="#363939" stroke-width="1.0"/>
<text transform="translate(374.60,1025.59) scale(1,1.05)" font-size="6.5" text-anchor="end" fill="#262626" stroke="#262626">75</text>
<line x1="378.00" y1="1010.00" x2="381.00" y2="1010.00" stroke="#363939" stroke-width="1.0"/>
<text transform="translate(374.60,1011.84) scale(1,1.05)" font-size="6.5" text-anchor="end" fill="#262626" stroke="#262626">80</text>
<line x1="378.00" y1="996.25" x2="381.00" y2="996.25" stroke="#363939" stroke-width="1.0"/>
<text transform="translate(374.60,998.09) scale(1,1.05)" font-size="6.5" text-anchor="end" fill="#262626" stroke="#262626">85</text>
<line x1="378.00" y1="982.50" x2="381.00" y2="982.50" stroke="#363939" stroke-width="1.0"/>
<text transform="translate(374.60,984.34) scale(1,1.05)" font-size="6.5" text-anchor="end" fill="#262626" stroke="#262626">90</text>
<line x1="400.38" y1="1092.50" x2="400.38" y2="1095.50" stroke="#363939" stroke-width="1.0"/>
<text transform="translate(400.38,1103.78) scale(1,1.05)" font-size="6.5" text-anchor="middle" fill="#262626" stroke="#262626">1</text>
<line x1="415.06" y1="1092.50" x2="415.06" y2="1095.50" stroke="#363939" stroke-width="1.0"/>
<text transform="translate(415.06,1103.78) scale(1,1.05)" font-size="6.5" text-anchor="middle" fill="#262626" stroke="#262626">2</text>
<line x1="429.73" y1="1092.50" x2="429.73" y2="1095.50" stroke="#363939" stroke-width="1.0"/>
<text transform="translate(429.73,1103.78) scale(1,1.05)" font-size="6.5" text-anchor="middle" fill="#262626" stroke="#262626">3</text>
<line x1="444.41" y1="1092.50" x2="444.41" y2="1095.50" stroke="#363939" stroke-width="1.0"/>
<text transform="translate(444.41,1103.78) scale(1,1.05)" font-size="6.5" text-anchor="middle" fill="#262626" stroke="#262626">4</text>
<line x1="459.09" y1="1092.50" x2="459.09" y2="1095.50" stroke="#363939" stroke-width="1.0"/>
<text transform="translate(459.09,1103.78) scale(1,1.05)" font-size="6.5" text-anchor="middle" fill="#262626" stroke="#262626">5</text>
<line x1="473.77" y1="1092.50" x2="473.77" y2="1095.50" stroke="#363939" stroke-width="1.0"/>
<text transform="translate(473.77,1103.78) scale(1,1.05)" font-size="6.5" text-anchor="middle" fill="#262626" stroke="#262626">6</text>
<line x1="488.45" y1="1092.50" x2="488.45" y2="1095.50" stroke="#363939" stroke-width="1.0"/>
<text transform="translate(488.45,1103.78) scale(1,1.05)" font-size="6.5" text-anchor="middle" fill="#262626" stroke="#262626">7</text>
<line x1="503.12" y1="1092.50" x2="503.12" y2="1095.50" stroke="#363939" stroke-width="1.0"/>
<text transform="translate(503.12,1103.78) scale(1,1.05)" font-size="6.5" text-anchor="middle" fill="#262626" stroke="#262626">8</text>
<line x1="517.80" y1="1092.50" x2="517.80" y2="1095.50" stroke="#363939" stroke-width="1.0"/>
<text transform="translate(517.80,1103.78) scale(1,1.05)" font-size="6.5" text-anchor="middle" fill="#262626" stroke="#262626">9</text>
<line x1="532.48" y1="1092.50" x2="532.48" y2="1095.50" stroke="#363939" stroke-width="1.0"/>
<text transform="translate(532.48,1103.78) scale(1,1.05)" font-size="6.5" text-anchor="middle" fill="#262626" stroke="#262626">10</text>
<line x1="547.16" y1="1092.50" x2="547.16" y2="1095.50" stroke="#363939" stroke-width="1.0"/>
<text transform="translate(547.16,1103.78) scale(1,1.05)" font-size="6.5" text-anchor="middle" fill="#262626" stroke="#262626">11</text>
<line x1="561.84" y1="1092.50" x2="561.84" y2="1095.50" stroke="#363939" stroke-width="1.0"/>
<text transform="translate(561.84,1103.78) scale(1,1.05)" font-size="6.5" text-anchor="middle" fill="#262626" stroke="#262626">12</text>
<line x1="576.51" y1="1092.50" x2="576.51" y2="1095.50" stroke="#363939" stroke-width="1.0"/>
<text transform="translate(576.51,1103.78) scale(1,1.05)" font-size="6.5" text-anchor="middle" fill="#262626" stroke="#262626">13</text>
<line x1="591.19" y1="1092.50" x2="591.19" y2="1095.50" stroke="#363939" stroke-width="1.0"/>
<text transform="translate(591.19,1103.78) scale(1,1.05)" font-size="6.5" text-anchor="middle" fill="#262626" stroke="#262626">14</text>
<line x1="605.87" y1="1092.50" x2="605.87" y2="1095.50" stroke="#363939" stroke-width="1.0"/>
<text transform="translate(605.87,1103.78) scale(1,1.05)" font-size="6.5" text-anchor="middle" fill="#262626" stroke="#262626">15</text>
<line x1="620.55" y1="1092.50" x2="620.55" y2="1095.50" stroke="#363939" stroke-width="1.0"/>
<text transform="translate(620.55,1103.78) scale(1,1.05)" font-size="6.5" text-anchor="middle" fill="#262626" stroke="#262626">16</text>
<line x1="635.23" y1="1092.50" x2="635.23" y2="1095.50" stroke="#363939" stroke-width="1.0"/>
<text transform="translate(635.23,1103.78) scale(1,1.05)" font-size="6.5" text-anchor="middle" fill="#262626" stroke="#262626">17</text>
<line x1="649.90" y1="1092.50" x2="649.90" y2="1095.50" stroke="#363939" stroke-width="1.0"/>
<text transform="translate(649.90,1103.78) scale(1,1.05)" font-size="6.5" text-anchor="middle" fill="#262626" stroke="#262626">18</text>
<line x1="664.58" y1="1092.50" x2="664.58" y2="1095.50" stroke="#363939" stroke-width="1.0"/>
<text transform="translate(664.58,1103.78) scale(1,1.05)" font-size="6.5" text-anchor="middle" fill="#262626" stroke="#262626">19</text>
<text transform="translate(190.50,1118.60) scale(1,1.05)" font-size="9.3" text-anchor="middle" fill="#262626" stroke="#262626">Subject ID</text>
<text transform="translate(533.70,1118.60) scale(1,1.05)" font-size="9.3" text-anchor="middle" fill="#262626" stroke="#262626">Subject ID</text>
</svg></body></html>
